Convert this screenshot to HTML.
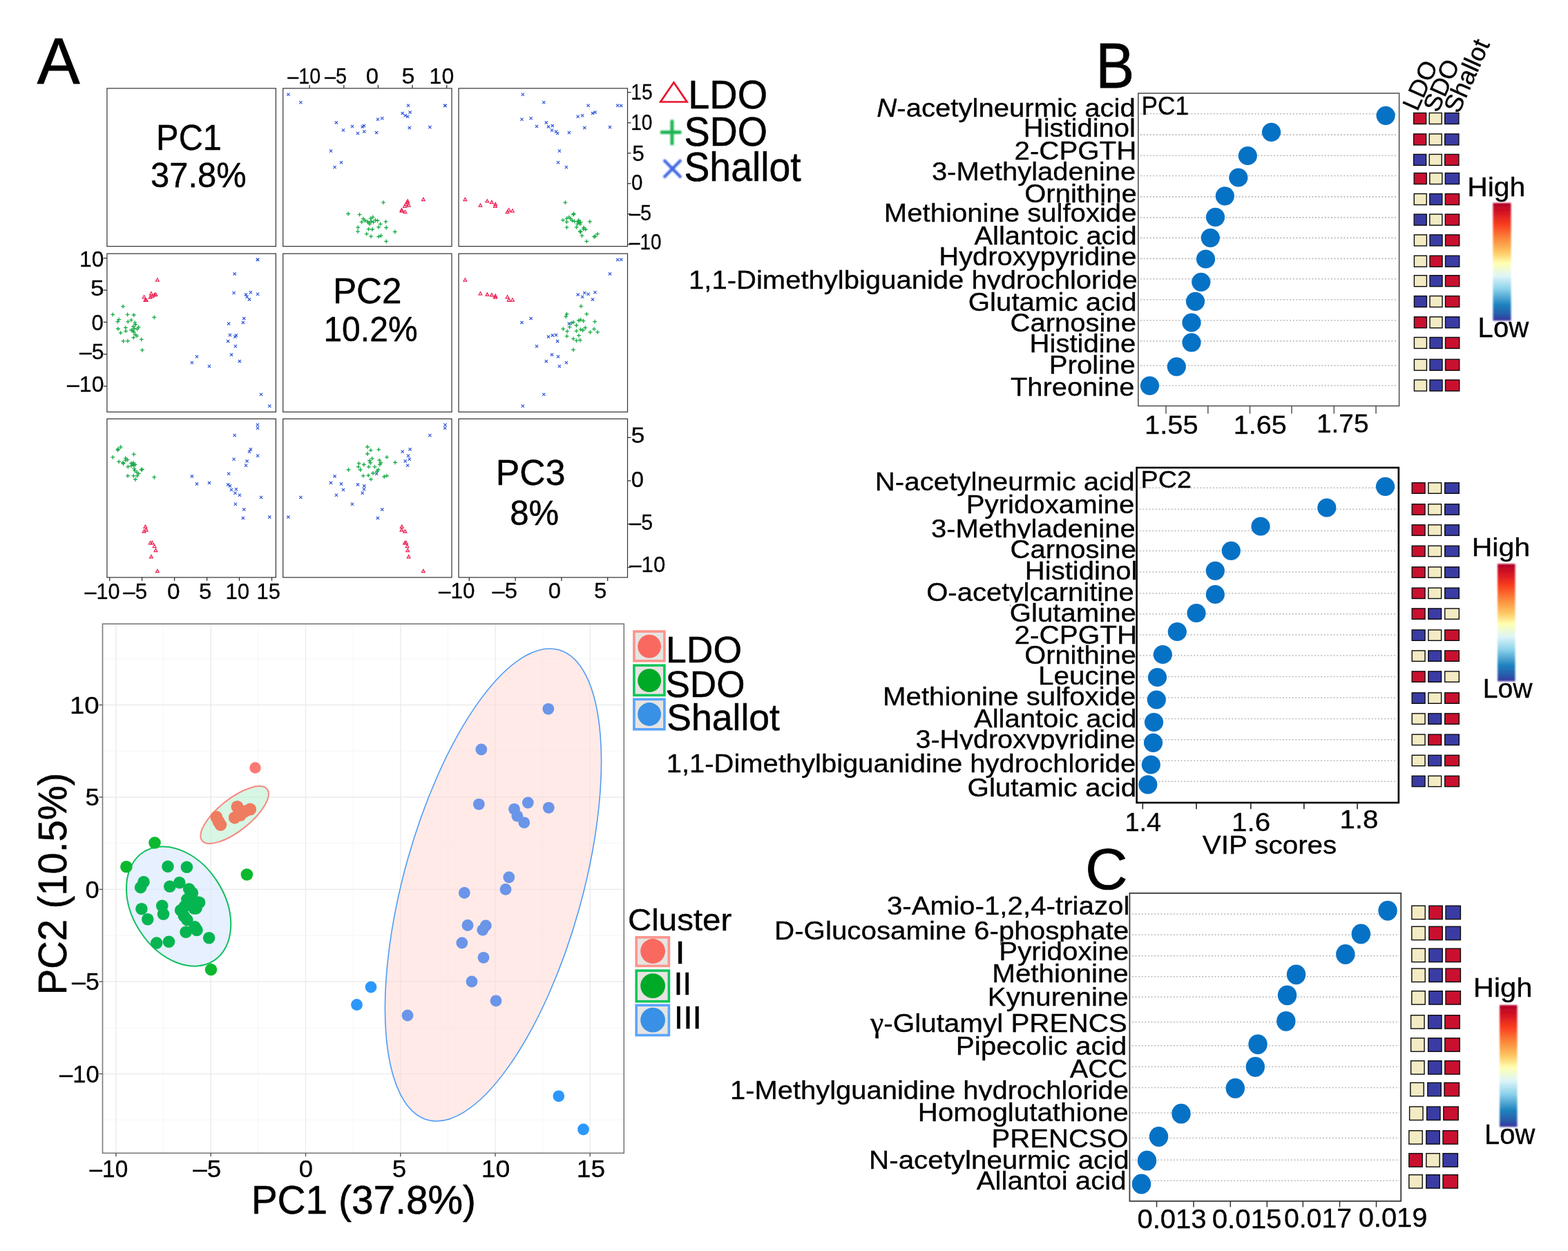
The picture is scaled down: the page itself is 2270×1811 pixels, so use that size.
<!DOCTYPE html>
<html lang="en"><head><meta charset="utf-8"><title>Figure: PCA score plots and VIP scores</title>
<style>
html,body{margin:0;padding:0;background:#fff;}
body{width:2270px;height:1811px;overflow:hidden;font-family:"Liberation Sans",Arial,Helvetica,sans-serif;}
svg{display:block;}
text{white-space:pre;}
</style></head>
<body>
<svg width="2270" height="1811" viewBox="0 0 2270 1811">
<defs>
<filter id="b1" x="-20%" y="-20%" width="140%" height="140%"><feGaussianBlur stdDeviation="0.9"/></filter>
<filter id="b05" x="-10%" y="-10%" width="120%" height="120%"><feGaussianBlur stdDeviation="0.6"/></filter>
<linearGradient id="cb" x1="0" y1="0" x2="0" y2="1">
<stop offset="0" stop-color="#b00028"/><stop offset="0.08" stop-color="#d41423"/><stop offset="0.18" stop-color="#f93c1e"/>
<stop offset="0.31" stop-color="#fc8c3c"/><stop offset="0.42" stop-color="#fec864"/><stop offset="0.51" stop-color="#ffffb0"/>
<stop offset="0.62" stop-color="#def5f8"/><stop offset="0.73" stop-color="#8cd2eb"/><stop offset="0.865" stop-color="#1e82be"/>
<stop offset="0.95" stop-color="#285aaa"/><stop offset="1" stop-color="#3c32a0"/>
</linearGradient>
</defs>
<rect width="2270" height="1811" fill="#fff"/>
<rect x="154.9" y="127.9" width="244.5" height="228.7" fill="none" stroke="#333" stroke-width="1.2"/>
<rect x="409.7" y="127.9" width="244.3" height="228.7" fill="none" stroke="#333" stroke-width="1.2"/>
<rect x="664.0" y="127.9" width="244.5" height="228.7" fill="none" stroke="#333" stroke-width="1.2"/>
<rect x="154.9" y="367.2" width="244.5" height="229.2" fill="none" stroke="#333" stroke-width="1.2"/>
<rect x="409.7" y="367.2" width="244.3" height="229.2" fill="none" stroke="#333" stroke-width="1.2"/>
<rect x="664.0" y="367.2" width="244.5" height="229.2" fill="none" stroke="#333" stroke-width="1.2"/>
<rect x="154.9" y="606.4" width="244.5" height="229.5" fill="none" stroke="#333" stroke-width="1.2"/>
<rect x="409.7" y="606.4" width="244.3" height="229.5" fill="none" stroke="#333" stroke-width="1.2"/>
<rect x="664.0" y="606.4" width="244.5" height="229.5" fill="none" stroke="#333" stroke-width="1.2"/>
<g id="pairs-points">
<path d="M642.4 150.9L646.6 155.1M642.4 155.1L646.6 150.9" fill="none" stroke="#2f55dd" stroke-width="1.2"/>
<path d="M642.1 150.6L646.3 154.8M642.1 154.8L646.3 150.6" fill="none" stroke="#2f55dd" stroke-width="1.2"/>
<path d="M620.3 182.0L624.5 186.2M620.3 186.2L624.5 182.0" fill="none" stroke="#2f55dd" stroke-width="1.2"/>
<path d="M590.7 183.0L594.9 187.2M590.7 187.2L594.9 183.0" fill="none" stroke="#2f55dd" stroke-width="1.2"/>
<path d="M588.1 166.7L592.3 170.9M588.1 170.9L592.3 166.7" fill="none" stroke="#2f55dd" stroke-width="1.2"/>
<path d="M591.5 160.3L595.7 164.5M591.5 164.5L595.7 160.3" fill="none" stroke="#2f55dd" stroke-width="1.2"/>
<path d="M588.9 150.6L593.1 154.8M588.9 154.8L593.1 150.6" fill="none" stroke="#2f55dd" stroke-width="1.2"/>
<path d="M584.6 165.2L588.8 169.4M584.6 169.4L588.8 165.2" fill="none" stroke="#2f55dd" stroke-width="1.2"/>
<path d="M580.6 162.0L584.8 166.2M580.6 166.2L584.8 162.0" fill="none" stroke="#2f55dd" stroke-width="1.2"/>
<path d="M551.2 169.2L555.4 173.4M551.2 173.4L555.4 169.2" fill="none" stroke="#2f55dd" stroke-width="1.2"/>
<path d="M544.8 170.6L549.0 174.8M544.8 174.8L549.0 170.6" fill="none" stroke="#2f55dd" stroke-width="1.2"/>
<path d="M543.0 190.0L547.2 194.2M543.0 194.2L547.2 190.0" fill="none" stroke="#2f55dd" stroke-width="1.2"/>
<path d="M525.2 188.4L529.4 192.6M525.2 192.6L529.4 188.4" fill="none" stroke="#2f55dd" stroke-width="1.2"/>
<path d="M524.9 180.0L529.1 184.2M524.9 184.2L529.1 180.0" fill="none" stroke="#2f55dd" stroke-width="1.2"/>
<path d="M522.6 181.3L526.8 185.5M522.6 185.5L526.8 181.3" fill="none" stroke="#2f55dd" stroke-width="1.2"/>
<path d="M515.9 190.9L520.1 195.1M515.9 195.1L520.1 190.9" fill="none" stroke="#2f55dd" stroke-width="1.2"/>
<path d="M507.9 180.9L512.1 185.1M507.9 185.1L512.1 180.9" fill="none" stroke="#2f55dd" stroke-width="1.2"/>
<path d="M494.9 186.4L499.1 190.6M494.9 190.6L499.1 186.4" fill="none" stroke="#2f55dd" stroke-width="1.2"/>
<path d="M484.8 175.3L489.0 179.5M484.8 179.5L489.0 175.3" fill="none" stroke="#2f55dd" stroke-width="1.2"/>
<path d="M491.9 233.2L496.1 237.4M491.9 237.4L496.1 233.2" fill="none" stroke="#2f55dd" stroke-width="1.2"/>
<path d="M482.5 239.9L486.7 244.1M482.5 244.1L486.7 239.9" fill="none" stroke="#2f55dd" stroke-width="1.2"/>
<path d="M476.9 216.4L481.1 220.6M476.9 220.6L481.1 216.4" fill="none" stroke="#2f55dd" stroke-width="1.2"/>
<path d="M433.3 146.1L437.5 150.3M433.3 150.3L437.5 146.1" fill="none" stroke="#2f55dd" stroke-width="1.2"/>
<path d="M415.3 134.6L419.5 138.8M415.3 138.8L419.5 134.6" fill="none" stroke="#2f55dd" stroke-width="1.2"/>
<path d="M556.3 349.4H562.1M559.2 346.5V352.3" fill="none" stroke="#14ab45" stroke-width="1.3"/>
<path d="M545.2 342.7H551.0M548.1 339.8V345.6" fill="none" stroke="#14ab45" stroke-width="1.3"/>
<path d="M534.2 342.2H540.0M537.1 339.3V345.1" fill="none" stroke="#14ab45" stroke-width="1.3"/>
<path d="M548.6 341.1H554.4M551.5 338.2V344.0" fill="none" stroke="#14ab45" stroke-width="1.3"/>
<path d="M527.9 338.7H533.7M530.8 335.8V341.6" fill="none" stroke="#14ab45" stroke-width="1.3"/>
<path d="M568.8 335.5H574.6M571.7 332.6V338.4" fill="none" stroke="#14ab45" stroke-width="1.3"/>
<path d="M515.1 335.1H520.9M518.0 332.2V338.0" fill="none" stroke="#14ab45" stroke-width="1.3"/>
<path d="M536.1 332.0H541.9M539.0 329.1V334.9" fill="none" stroke="#14ab45" stroke-width="1.3"/>
<path d="M530.7 331.7H536.5M533.6 328.8V334.6" fill="none" stroke="#14ab45" stroke-width="1.3"/>
<path d="M556.3 329.5H562.1M559.2 326.6V332.4" fill="none" stroke="#14ab45" stroke-width="1.3"/>
<path d="M515.4 329.1H521.2M518.3 326.2V332.0" fill="none" stroke="#14ab45" stroke-width="1.3"/>
<path d="M545.2 328.8H551.0M548.1 325.9V331.7" fill="none" stroke="#14ab45" stroke-width="1.3"/>
<path d="M547.8 324.4H553.6M550.7 321.5V327.3" fill="none" stroke="#14ab45" stroke-width="1.3"/>
<path d="M532.2 324.4H538.0M535.1 321.5V327.3" fill="none" stroke="#14ab45" stroke-width="1.3"/>
<path d="M531.5 322.4H537.3M534.4 319.5V325.3" fill="none" stroke="#14ab45" stroke-width="1.3"/>
<path d="M537.6 321.7H543.4M540.5 318.8V324.6" fill="none" stroke="#14ab45" stroke-width="1.3"/>
<path d="M520.8 321.3H526.6M523.7 318.4V324.2" fill="none" stroke="#14ab45" stroke-width="1.3"/>
<path d="M529.2 321.0H535.0M532.1 318.1V323.9" fill="none" stroke="#14ab45" stroke-width="1.3"/>
<path d="M555.6 320.9H561.4M558.5 318.0V323.8" fill="none" stroke="#14ab45" stroke-width="1.3"/>
<path d="M534.5 320.4H540.3M537.4 317.5V323.3" fill="none" stroke="#14ab45" stroke-width="1.3"/>
<path d="M543.7 319.4H549.5M546.6 316.5V322.3" fill="none" stroke="#14ab45" stroke-width="1.3"/>
<path d="M525.3 319.0H531.1M528.2 316.1V321.9" fill="none" stroke="#14ab45" stroke-width="1.3"/>
<path d="M540.6 318.7H546.4M543.5 315.8V321.6" fill="none" stroke="#14ab45" stroke-width="1.3"/>
<path d="M523.0 316.7H528.8M525.9 313.8V319.6" fill="none" stroke="#14ab45" stroke-width="1.3"/>
<path d="M533.8 316.3H539.6M536.7 313.4V319.2" fill="none" stroke="#14ab45" stroke-width="1.3"/>
<path d="M536.8 314.3H542.6M539.7 311.4V317.2" fill="none" stroke="#14ab45" stroke-width="1.3"/>
<path d="M517.7 310.6H523.5M520.6 307.7V313.5" fill="none" stroke="#14ab45" stroke-width="1.3"/>
<path d="M501.2 309.5H507.0M504.1 306.6V312.4" fill="none" stroke="#14ab45" stroke-width="1.3"/>
<path d="M552.1 293.2H557.9M555.0 290.3V296.1" fill="none" stroke="#14ab45" stroke-width="1.3"/>
<path d="M612.9 286.4L615.2 290.6L610.5 290.6Z" fill="none" stroke="#ee2255" stroke-width="1.25"/>
<path d="M586.4 304.5L588.8 308.7L584.0 308.7Z" fill="none" stroke="#ee2255" stroke-width="1.25"/>
<path d="M581.8 302.7L584.2 307.0L579.4 307.0Z" fill="none" stroke="#ee2255" stroke-width="1.25"/>
<path d="M581.5 301.5L583.9 305.8L579.1 305.8Z" fill="none" stroke="#ee2255" stroke-width="1.25"/>
<path d="M585.9 296.0L588.3 300.3L583.6 300.3Z" fill="none" stroke="#ee2255" stroke-width="1.25"/>
<path d="M591.7 294.8L594.1 299.1L589.4 299.1Z" fill="none" stroke="#ee2255" stroke-width="1.25"/>
<path d="M587.9 293.4L590.3 297.6L585.5 297.6Z" fill="none" stroke="#ee2255" stroke-width="1.25"/>
<path d="M589.5 290.4L591.8 294.7L587.1 294.7Z" fill="none" stroke="#ee2255" stroke-width="1.25"/>
<path d="M590.2 288.7L592.6 292.9L587.8 292.9Z" fill="none" stroke="#ee2255" stroke-width="1.25"/>
<path d="M897.2 150.9L901.4 155.1M897.2 155.1L901.4 150.9" fill="none" stroke="#2f55dd" stroke-width="1.2"/>
<path d="M892.1 150.6L896.3 154.8M892.1 154.8L896.3 150.6" fill="none" stroke="#2f55dd" stroke-width="1.2"/>
<path d="M880.9 182.0L885.1 186.2M880.9 186.2L885.1 182.0" fill="none" stroke="#2f55dd" stroke-width="1.2"/>
<path d="M844.2 183.0L848.4 187.2M844.2 187.2L848.4 183.0" fill="none" stroke="#2f55dd" stroke-width="1.2"/>
<path d="M834.6 166.7L838.8 170.9M834.6 170.9L838.8 166.7" fill="none" stroke="#2f55dd" stroke-width="1.2"/>
<path d="M859.4 160.3L863.6 164.5M859.4 164.5L863.6 160.3" fill="none" stroke="#2f55dd" stroke-width="1.2"/>
<path d="M849.5 150.6L853.7 154.8M849.5 154.8L853.7 150.6" fill="none" stroke="#2f55dd" stroke-width="1.2"/>
<path d="M841.1 165.2L845.3 169.4M841.1 169.4L845.3 165.2" fill="none" stroke="#2f55dd" stroke-width="1.2"/>
<path d="M855.9 162.0L860.1 166.2M855.9 166.2L860.1 162.0" fill="none" stroke="#2f55dd" stroke-width="1.2"/>
<path d="M766.5 169.2L770.7 173.4M766.5 173.4L770.7 169.2" fill="none" stroke="#2f55dd" stroke-width="1.2"/>
<path d="M753.4 170.6L757.6 174.8M753.4 174.8L757.6 170.6" fill="none" stroke="#2f55dd" stroke-width="1.2"/>
<path d="M821.8 190.0L826.0 194.2M821.8 194.2L826.0 190.0" fill="none" stroke="#2f55dd" stroke-width="1.2"/>
<path d="M802.9 188.4L807.1 192.6M802.9 192.6L807.1 188.4" fill="none" stroke="#2f55dd" stroke-width="1.2"/>
<path d="M797.7 180.0L801.9 184.2M797.7 184.2L801.9 180.0" fill="none" stroke="#2f55dd" stroke-width="1.2"/>
<path d="M791.9 181.3L796.1 185.5M791.9 185.5L796.1 181.3" fill="none" stroke="#2f55dd" stroke-width="1.2"/>
<path d="M805.0 190.9L809.2 195.1M805.0 195.1L809.2 190.9" fill="none" stroke="#2f55dd" stroke-width="1.2"/>
<path d="M774.9 180.9L779.1 185.1M774.9 185.1L779.1 180.9" fill="none" stroke="#2f55dd" stroke-width="1.2"/>
<path d="M796.9 186.4L801.1 190.6M796.9 190.6L801.1 186.4" fill="none" stroke="#2f55dd" stroke-width="1.2"/>
<path d="M788.7 175.3L792.9 179.5M788.7 179.5L792.9 175.3" fill="none" stroke="#2f55dd" stroke-width="1.2"/>
<path d="M805.9 233.2L810.1 237.4M805.9 237.4L810.1 233.2" fill="none" stroke="#2f55dd" stroke-width="1.2"/>
<path d="M817.8 239.9L822.0 244.1M817.8 244.1L822.0 239.9" fill="none" stroke="#2f55dd" stroke-width="1.2"/>
<path d="M807.8 216.4L812.0 220.6M807.8 220.6L812.0 216.4" fill="none" stroke="#2f55dd" stroke-width="1.2"/>
<path d="M785.2 146.1L789.4 150.3M785.2 150.3L789.4 146.1" fill="none" stroke="#2f55dd" stroke-width="1.2"/>
<path d="M754.7 134.6L758.9 138.8M754.7 138.8L758.9 134.6" fill="none" stroke="#2f55dd" stroke-width="1.2"/>
<path d="M846.4 349.4H852.2M849.3 346.5V352.3" fill="none" stroke="#14ab45" stroke-width="1.3"/>
<path d="M857.2 342.7H863.0M860.1 339.8V345.6" fill="none" stroke="#14ab45" stroke-width="1.3"/>
<path d="M859.0 342.2H864.8M861.9 339.3V345.1" fill="none" stroke="#14ab45" stroke-width="1.3"/>
<path d="M839.6 341.1H845.4M842.5 338.2V344.0" fill="none" stroke="#14ab45" stroke-width="1.3"/>
<path d="M862.1 338.7H867.9M865.0 335.8V341.6" fill="none" stroke="#14ab45" stroke-width="1.3"/>
<path d="M837.7 335.5H843.5M840.6 332.6V338.4" fill="none" stroke="#14ab45" stroke-width="1.3"/>
<path d="M836.7 335.1H842.5M839.6 332.2V338.0" fill="none" stroke="#14ab45" stroke-width="1.3"/>
<path d="M844.9 332.0H850.7M847.8 329.1V334.9" fill="none" stroke="#14ab45" stroke-width="1.3"/>
<path d="M842.0 331.7H847.8M844.9 328.8V334.6" fill="none" stroke="#14ab45" stroke-width="1.3"/>
<path d="M842.3 329.5H848.1M845.2 326.6V332.4" fill="none" stroke="#14ab45" stroke-width="1.3"/>
<path d="M817.6 329.1H823.4M820.5 326.2V332.0" fill="none" stroke="#14ab45" stroke-width="1.3"/>
<path d="M831.6 328.8H837.4M834.5 325.9V331.7" fill="none" stroke="#14ab45" stroke-width="1.3"/>
<path d="M837.0 324.4H842.8M839.9 321.5V327.3" fill="none" stroke="#14ab45" stroke-width="1.3"/>
<path d="M833.2 324.4H839.0M836.1 321.5V327.3" fill="none" stroke="#14ab45" stroke-width="1.3"/>
<path d="M835.4 322.4H841.2M838.3 319.5V325.3" fill="none" stroke="#14ab45" stroke-width="1.3"/>
<path d="M837.7 321.7H843.5M840.6 318.8V324.6" fill="none" stroke="#14ab45" stroke-width="1.3"/>
<path d="M817.6 321.3H823.4M820.5 318.4V324.2" fill="none" stroke="#14ab45" stroke-width="1.3"/>
<path d="M833.9 321.0H839.7M836.8 318.1V323.9" fill="none" stroke="#14ab45" stroke-width="1.3"/>
<path d="M851.0 320.9H856.8M853.9 318.0V323.8" fill="none" stroke="#14ab45" stroke-width="1.3"/>
<path d="M828.6 320.4H834.4M831.5 317.5V323.3" fill="none" stroke="#14ab45" stroke-width="1.3"/>
<path d="M825.5 319.4H831.3M828.4 316.5V322.3" fill="none" stroke="#14ab45" stroke-width="1.3"/>
<path d="M835.0 319.0H840.8M837.9 316.1V321.9" fill="none" stroke="#14ab45" stroke-width="1.3"/>
<path d="M812.1 318.7H817.9M815.0 315.8V321.6" fill="none" stroke="#14ab45" stroke-width="1.3"/>
<path d="M823.3 316.7H829.1M826.2 313.8V319.6" fill="none" stroke="#14ab45" stroke-width="1.3"/>
<path d="M817.6 316.3H823.4M820.5 313.4V319.2" fill="none" stroke="#14ab45" stroke-width="1.3"/>
<path d="M821.0 314.3H826.8M823.9 311.4V317.2" fill="none" stroke="#14ab45" stroke-width="1.3"/>
<path d="M827.1 310.6H832.9M830.0 307.7V313.5" fill="none" stroke="#14ab45" stroke-width="1.3"/>
<path d="M827.8 309.5H833.6M830.7 306.6V312.4" fill="none" stroke="#14ab45" stroke-width="1.3"/>
<path d="M815.5 293.2H821.3M818.4 290.3V296.1" fill="none" stroke="#14ab45" stroke-width="1.3"/>
<path d="M673.4 286.4L675.7 290.6L671.0 290.6Z" fill="none" stroke="#ee2255" stroke-width="1.25"/>
<path d="M734.6 304.5L737.0 308.7L732.2 308.7Z" fill="none" stroke="#ee2255" stroke-width="1.25"/>
<path d="M741.9 302.7L744.3 307.0L739.5 307.0Z" fill="none" stroke="#ee2255" stroke-width="1.25"/>
<path d="M736.7 301.5L739.1 305.8L734.4 305.8Z" fill="none" stroke="#ee2255" stroke-width="1.25"/>
<path d="M716.9 296.0L719.3 300.3L714.6 300.3Z" fill="none" stroke="#ee2255" stroke-width="1.25"/>
<path d="M695.5 294.8L697.8 299.1L693.1 299.1Z" fill="none" stroke="#ee2255" stroke-width="1.25"/>
<path d="M717.2 293.4L719.6 297.6L714.9 297.6Z" fill="none" stroke="#ee2255" stroke-width="1.25"/>
<path d="M711.9 290.4L714.3 294.7L709.5 294.7Z" fill="none" stroke="#ee2255" stroke-width="1.25"/>
<path d="M705.4 288.7L707.7 292.9L703.0 292.9Z" fill="none" stroke="#ee2255" stroke-width="1.25"/>
<path d="M370.8 373.6L375.0 377.8M370.8 377.8L375.0 373.6" fill="none" stroke="#2f55dd" stroke-width="1.2"/>
<path d="M371.0 373.9L375.2 378.1M371.0 378.1L375.2 373.9" fill="none" stroke="#2f55dd" stroke-width="1.2"/>
<path d="M337.6 394.3L341.8 398.5M337.6 398.5L341.8 394.3" fill="none" stroke="#2f55dd" stroke-width="1.2"/>
<path d="M336.5 421.9L340.7 426.1M336.5 426.1L340.7 421.9" fill="none" stroke="#2f55dd" stroke-width="1.2"/>
<path d="M353.9 424.3L358.1 428.5M353.9 428.5L358.1 424.3" fill="none" stroke="#2f55dd" stroke-width="1.2"/>
<path d="M360.8 421.2L365.0 425.4M360.8 425.4L365.0 421.2" fill="none" stroke="#2f55dd" stroke-width="1.2"/>
<path d="M371.0 423.6L375.2 427.8M371.0 427.8L375.2 423.6" fill="none" stroke="#2f55dd" stroke-width="1.2"/>
<path d="M355.5 427.6L359.7 431.8M355.5 431.8L359.7 427.6" fill="none" stroke="#2f55dd" stroke-width="1.2"/>
<path d="M358.9 431.3L363.1 435.5M358.9 435.5L363.1 431.3" fill="none" stroke="#2f55dd" stroke-width="1.2"/>
<path d="M351.2 458.8L355.4 463.0M351.2 463.0L355.4 458.8" fill="none" stroke="#2f55dd" stroke-width="1.2"/>
<path d="M349.8 464.8L354.0 469.0M349.8 469.0L354.0 464.8" fill="none" stroke="#2f55dd" stroke-width="1.2"/>
<path d="M329.0 466.5L333.2 470.7M329.0 470.7L333.2 466.5" fill="none" stroke="#2f55dd" stroke-width="1.2"/>
<path d="M330.8 483.0L335.0 487.2M330.8 487.2L335.0 483.0" fill="none" stroke="#2f55dd" stroke-width="1.2"/>
<path d="M339.8 483.3L344.0 487.5M339.8 487.5L344.0 483.3" fill="none" stroke="#2f55dd" stroke-width="1.2"/>
<path d="M338.3 485.5L342.5 489.7M338.3 489.7L342.5 485.5" fill="none" stroke="#2f55dd" stroke-width="1.2"/>
<path d="M328.0 491.8L332.2 496.0M328.0 496.0L332.2 491.8" fill="none" stroke="#2f55dd" stroke-width="1.2"/>
<path d="M338.8 499.2L343.0 503.4M338.8 503.4L343.0 499.2" fill="none" stroke="#2f55dd" stroke-width="1.2"/>
<path d="M332.9 511.3L337.1 515.5M332.9 515.5L337.1 511.3" fill="none" stroke="#2f55dd" stroke-width="1.2"/>
<path d="M344.8 520.8L349.0 525.0M344.8 525.0L349.0 520.8" fill="none" stroke="#2f55dd" stroke-width="1.2"/>
<path d="M282.9 514.2L287.1 518.4M282.9 518.4L287.1 514.2" fill="none" stroke="#2f55dd" stroke-width="1.2"/>
<path d="M275.8 522.9L280.0 527.1M275.8 527.1L280.0 522.9" fill="none" stroke="#2f55dd" stroke-width="1.2"/>
<path d="M300.9 528.2L305.1 532.4M300.9 532.4L305.1 528.2" fill="none" stroke="#2f55dd" stroke-width="1.2"/>
<path d="M375.9 568.9L380.1 573.1M375.9 573.1L380.1 568.9" fill="none" stroke="#2f55dd" stroke-width="1.2"/>
<path d="M388.2 585.6L392.4 589.8M388.2 589.8L392.4 585.6" fill="none" stroke="#2f55dd" stroke-width="1.2"/>
<path d="M160.4 455.4H166.2M163.3 452.5V458.3" fill="none" stroke="#14ab45" stroke-width="1.3"/>
<path d="M167.5 465.7H173.3M170.4 462.8V468.6" fill="none" stroke="#14ab45" stroke-width="1.3"/>
<path d="M168.1 476.0H173.9M171.0 473.1V478.9" fill="none" stroke="#14ab45" stroke-width="1.3"/>
<path d="M169.2 462.6H175.0M172.1 459.7V465.5" fill="none" stroke="#14ab45" stroke-width="1.3"/>
<path d="M171.8 481.9H177.6M174.7 479.0V484.8" fill="none" stroke="#14ab45" stroke-width="1.3"/>
<path d="M175.2 443.7H181.0M178.1 440.8V446.6" fill="none" stroke="#14ab45" stroke-width="1.3"/>
<path d="M175.7 493.9H181.5M178.6 491.0V496.8" fill="none" stroke="#14ab45" stroke-width="1.3"/>
<path d="M179.0 474.3H184.8M181.9 471.4V477.2" fill="none" stroke="#14ab45" stroke-width="1.3"/>
<path d="M179.2 479.3H185.0M182.1 476.4V482.2" fill="none" stroke="#14ab45" stroke-width="1.3"/>
<path d="M181.7 455.4H187.5M184.6 452.5V458.3" fill="none" stroke="#14ab45" stroke-width="1.3"/>
<path d="M182.1 493.6H187.9M185.0 490.7V496.5" fill="none" stroke="#14ab45" stroke-width="1.3"/>
<path d="M182.4 465.7H188.2M185.3 462.8V468.6" fill="none" stroke="#14ab45" stroke-width="1.3"/>
<path d="M187.1 463.3H192.9M190.0 460.4V466.2" fill="none" stroke="#14ab45" stroke-width="1.3"/>
<path d="M187.1 477.9H192.9M190.0 475.0V480.8" fill="none" stroke="#14ab45" stroke-width="1.3"/>
<path d="M189.2 478.6H195.0M192.1 475.7V481.5" fill="none" stroke="#14ab45" stroke-width="1.3"/>
<path d="M190.0 472.9H195.8M192.9 470.0V475.8" fill="none" stroke="#14ab45" stroke-width="1.3"/>
<path d="M190.4 488.6H196.2M193.3 485.7V491.5" fill="none" stroke="#14ab45" stroke-width="1.3"/>
<path d="M190.7 480.7H196.5M193.6 477.8V483.6" fill="none" stroke="#14ab45" stroke-width="1.3"/>
<path d="M190.8 456.0H196.6M193.7 453.1V458.9" fill="none" stroke="#14ab45" stroke-width="1.3"/>
<path d="M191.4 475.7H197.2M194.3 472.8V478.6" fill="none" stroke="#14ab45" stroke-width="1.3"/>
<path d="M192.4 467.1H198.2M195.3 464.2V470.0" fill="none" stroke="#14ab45" stroke-width="1.3"/>
<path d="M192.8 484.3H198.6M195.7 481.4V487.2" fill="none" stroke="#14ab45" stroke-width="1.3"/>
<path d="M193.1 470.0H198.9M196.0 467.1V472.9" fill="none" stroke="#14ab45" stroke-width="1.3"/>
<path d="M195.2 486.4H201.0M198.1 483.5V489.3" fill="none" stroke="#14ab45" stroke-width="1.3"/>
<path d="M195.7 476.4H201.5M198.6 473.5V479.3" fill="none" stroke="#14ab45" stroke-width="1.3"/>
<path d="M197.8 473.6H203.6M200.7 470.7V476.5" fill="none" stroke="#14ab45" stroke-width="1.3"/>
<path d="M201.8 491.4H207.6M204.7 488.5V494.3" fill="none" stroke="#14ab45" stroke-width="1.3"/>
<path d="M203.0 506.9H208.8M205.9 504.0V509.8" fill="none" stroke="#14ab45" stroke-width="1.3"/>
<path d="M220.4 459.3H226.2M223.3 456.4V462.2" fill="none" stroke="#14ab45" stroke-width="1.3"/>
<path d="M227.9 402.8L230.2 407.0L225.5 407.0Z" fill="none" stroke="#ee2255" stroke-width="1.25"/>
<path d="M208.6 427.5L210.9 431.8L206.2 431.8Z" fill="none" stroke="#ee2255" stroke-width="1.25"/>
<path d="M210.4 431.8L212.8 436.0L208.1 436.0Z" fill="none" stroke="#ee2255" stroke-width="1.25"/>
<path d="M211.7 432.1L214.1 436.3L209.3 436.3Z" fill="none" stroke="#ee2255" stroke-width="1.25"/>
<path d="M217.6 427.9L219.9 432.2L215.2 432.2Z" fill="none" stroke="#ee2255" stroke-width="1.25"/>
<path d="M218.9 422.5L221.2 426.8L216.5 426.8Z" fill="none" stroke="#ee2255" stroke-width="1.25"/>
<path d="M220.4 426.1L222.8 430.3L218.1 430.3Z" fill="none" stroke="#ee2255" stroke-width="1.25"/>
<path d="M223.6 424.6L225.9 428.9L221.2 428.9Z" fill="none" stroke="#ee2255" stroke-width="1.25"/>
<path d="M225.4 423.9L227.8 428.2L223.1 428.2Z" fill="none" stroke="#ee2255" stroke-width="1.25"/>
<path d="M897.2 373.6L901.4 377.8M897.2 377.8L901.4 373.6" fill="none" stroke="#2f55dd" stroke-width="1.2"/>
<path d="M892.1 373.9L896.3 378.1M892.1 378.1L896.3 373.9" fill="none" stroke="#2f55dd" stroke-width="1.2"/>
<path d="M880.9 394.3L885.1 398.5M880.9 398.5L885.1 394.3" fill="none" stroke="#2f55dd" stroke-width="1.2"/>
<path d="M844.2 421.9L848.4 426.1M844.2 426.1L848.4 421.9" fill="none" stroke="#2f55dd" stroke-width="1.2"/>
<path d="M834.6 424.3L838.8 428.5M834.6 428.5L838.8 424.3" fill="none" stroke="#2f55dd" stroke-width="1.2"/>
<path d="M859.4 421.2L863.6 425.4M859.4 425.4L863.6 421.2" fill="none" stroke="#2f55dd" stroke-width="1.2"/>
<path d="M849.5 423.6L853.7 427.8M849.5 427.8L853.7 423.6" fill="none" stroke="#2f55dd" stroke-width="1.2"/>
<path d="M841.1 427.6L845.3 431.8M841.1 431.8L845.3 427.6" fill="none" stroke="#2f55dd" stroke-width="1.2"/>
<path d="M855.9 431.3L860.1 435.5M855.9 435.5L860.1 431.3" fill="none" stroke="#2f55dd" stroke-width="1.2"/>
<path d="M766.5 458.8L770.7 463.0M766.5 463.0L770.7 458.8" fill="none" stroke="#2f55dd" stroke-width="1.2"/>
<path d="M753.4 464.8L757.6 469.0M753.4 469.0L757.6 464.8" fill="none" stroke="#2f55dd" stroke-width="1.2"/>
<path d="M821.8 466.5L826.0 470.7M821.8 470.7L826.0 466.5" fill="none" stroke="#2f55dd" stroke-width="1.2"/>
<path d="M802.9 483.0L807.1 487.2M802.9 487.2L807.1 483.0" fill="none" stroke="#2f55dd" stroke-width="1.2"/>
<path d="M797.7 483.3L801.9 487.5M797.7 487.5L801.9 483.3" fill="none" stroke="#2f55dd" stroke-width="1.2"/>
<path d="M791.9 485.5L796.1 489.7M791.9 489.7L796.1 485.5" fill="none" stroke="#2f55dd" stroke-width="1.2"/>
<path d="M805.0 491.8L809.2 496.0M805.0 496.0L809.2 491.8" fill="none" stroke="#2f55dd" stroke-width="1.2"/>
<path d="M774.9 499.2L779.1 503.4M774.9 503.4L779.1 499.2" fill="none" stroke="#2f55dd" stroke-width="1.2"/>
<path d="M796.9 511.3L801.1 515.5M796.9 515.5L801.1 511.3" fill="none" stroke="#2f55dd" stroke-width="1.2"/>
<path d="M788.7 520.8L792.9 525.0M788.7 525.0L792.9 520.8" fill="none" stroke="#2f55dd" stroke-width="1.2"/>
<path d="M805.9 514.2L810.1 518.4M805.9 518.4L810.1 514.2" fill="none" stroke="#2f55dd" stroke-width="1.2"/>
<path d="M817.8 522.9L822.0 527.1M817.8 527.1L822.0 522.9" fill="none" stroke="#2f55dd" stroke-width="1.2"/>
<path d="M807.8 528.2L812.0 532.4M807.8 532.4L812.0 528.2" fill="none" stroke="#2f55dd" stroke-width="1.2"/>
<path d="M785.2 568.9L789.4 573.1M785.2 573.1L789.4 568.9" fill="none" stroke="#2f55dd" stroke-width="1.2"/>
<path d="M754.7 585.6L758.9 589.8M754.7 589.8L758.9 585.6" fill="none" stroke="#2f55dd" stroke-width="1.2"/>
<path d="M862.2 480.8H868.0M865.1 477.9V483.7" fill="none" stroke="#14ab45" stroke-width="1.3"/>
<path d="M857.2 476.3H863.0M860.1 473.4V479.2" fill="none" stroke="#14ab45" stroke-width="1.3"/>
<path d="M858.2 465.6H864.0M861.1 462.7V468.5" fill="none" stroke="#14ab45" stroke-width="1.3"/>
<path d="M851.6 480.8H857.4M854.5 477.9V483.7" fill="none" stroke="#14ab45" stroke-width="1.3"/>
<path d="M846.5 454.6H852.3M849.4 451.7V457.5" fill="none" stroke="#14ab45" stroke-width="1.3"/>
<path d="M844.4 474.5H850.2M847.3 471.6V477.4" fill="none" stroke="#14ab45" stroke-width="1.3"/>
<path d="M840.9 478.0H846.7M843.8 475.1V480.9" fill="none" stroke="#14ab45" stroke-width="1.3"/>
<path d="M841.7 464.7H847.5M844.6 461.8V467.6" fill="none" stroke="#14ab45" stroke-width="1.3"/>
<path d="M836.9 492.4H842.7M839.8 489.5V495.3" fill="none" stroke="#14ab45" stroke-width="1.3"/>
<path d="M835.1 485.7H840.9M838.0 482.8V488.6" fill="none" stroke="#14ab45" stroke-width="1.3"/>
<path d="M837.7 476.8H843.5M840.6 473.9V479.7" fill="none" stroke="#14ab45" stroke-width="1.3"/>
<path d="M837.7 462.8H843.5M840.6 459.9V465.7" fill="none" stroke="#14ab45" stroke-width="1.3"/>
<path d="M838.3 443.4H844.1M841.2 440.5V446.3" fill="none" stroke="#14ab45" stroke-width="1.3"/>
<path d="M831.6 493.1H837.4M834.5 490.2V496.0" fill="none" stroke="#14ab45" stroke-width="1.3"/>
<path d="M831.6 479.1H837.4M834.5 476.2V482.0" fill="none" stroke="#14ab45" stroke-width="1.3"/>
<path d="M831.6 471.0H837.4M834.5 468.1V473.9" fill="none" stroke="#14ab45" stroke-width="1.3"/>
<path d="M835.1 464.0H840.9M838.0 461.1V466.9" fill="none" stroke="#14ab45" stroke-width="1.3"/>
<path d="M827.1 506.4H832.9M830.0 503.5V509.3" fill="none" stroke="#14ab45" stroke-width="1.3"/>
<path d="M827.1 490.3H832.9M830.0 487.4V493.2" fill="none" stroke="#14ab45" stroke-width="1.3"/>
<path d="M827.1 466.3H832.9M830.0 463.4V469.2" fill="none" stroke="#14ab45" stroke-width="1.3"/>
<path d="M821.7 473.3H827.5M824.6 470.4V476.2" fill="none" stroke="#14ab45" stroke-width="1.3"/>
<path d="M824.4 467.9H830.2M827.3 465.0V470.8" fill="none" stroke="#14ab45" stroke-width="1.3"/>
<path d="M817.7 486.6H823.5M820.6 483.7V489.5" fill="none" stroke="#14ab45" stroke-width="1.3"/>
<path d="M818.3 479.6H824.1M821.2 476.7V482.5" fill="none" stroke="#14ab45" stroke-width="1.3"/>
<path d="M812.4 476.1H818.2M815.3 473.2V479.0" fill="none" stroke="#14ab45" stroke-width="1.3"/>
<path d="M816.4 458.1H822.2M819.3 455.2V461.0" fill="none" stroke="#14ab45" stroke-width="1.3"/>
<path d="M817.7 454.6H823.5M820.6 451.7V457.5" fill="none" stroke="#14ab45" stroke-width="1.3"/>
<path d="M673.4 402.8L675.7 407.0L671.0 407.0Z" fill="none" stroke="#ee2255" stroke-width="1.25"/>
<path d="M734.6 427.5L737.0 431.8L732.2 431.8Z" fill="none" stroke="#ee2255" stroke-width="1.25"/>
<path d="M741.9 431.8L744.3 436.0L739.5 436.0Z" fill="none" stroke="#ee2255" stroke-width="1.25"/>
<path d="M736.7 432.1L739.1 436.3L734.4 436.3Z" fill="none" stroke="#ee2255" stroke-width="1.25"/>
<path d="M716.9 427.9L719.3 432.2L714.6 432.2Z" fill="none" stroke="#ee2255" stroke-width="1.25"/>
<path d="M695.5 422.5L697.8 426.8L693.1 426.8Z" fill="none" stroke="#ee2255" stroke-width="1.25"/>
<path d="M717.2 426.1L719.6 430.3L714.9 430.3Z" fill="none" stroke="#ee2255" stroke-width="1.25"/>
<path d="M711.9 424.6L714.3 428.9L709.5 428.9Z" fill="none" stroke="#ee2255" stroke-width="1.25"/>
<path d="M705.4 423.9L707.7 428.2L703.0 428.2Z" fill="none" stroke="#ee2255" stroke-width="1.25"/>
<path d="M370.8 612.9L375.0 617.1M370.8 617.1L375.0 612.9" fill="none" stroke="#2f55dd" stroke-width="1.2"/>
<path d="M371.0 617.6L375.2 621.8M371.0 621.8L375.2 617.6" fill="none" stroke="#2f55dd" stroke-width="1.2"/>
<path d="M337.6 628.2L341.8 632.4M337.6 632.4L341.8 628.2" fill="none" stroke="#2f55dd" stroke-width="1.2"/>
<path d="M336.5 662.6L340.7 666.8M336.5 666.8L340.7 662.6" fill="none" stroke="#2f55dd" stroke-width="1.2"/>
<path d="M353.9 671.6L358.1 675.8M353.9 675.8L358.1 671.6" fill="none" stroke="#2f55dd" stroke-width="1.2"/>
<path d="M360.8 648.3L365.0 652.5M360.8 652.5L365.0 648.3" fill="none" stroke="#2f55dd" stroke-width="1.2"/>
<path d="M371.0 657.6L375.2 661.8M371.0 661.8L375.2 657.6" fill="none" stroke="#2f55dd" stroke-width="1.2"/>
<path d="M355.5 665.5L359.7 669.7M355.5 669.7L359.7 665.5" fill="none" stroke="#2f55dd" stroke-width="1.2"/>
<path d="M358.9 651.6L363.1 655.8M358.9 655.8L363.1 651.6" fill="none" stroke="#2f55dd" stroke-width="1.2"/>
<path d="M351.2 735.5L355.4 739.7M351.2 739.7L355.4 735.5" fill="none" stroke="#2f55dd" stroke-width="1.2"/>
<path d="M349.8 747.8L354.0 752.0M349.8 752.0L354.0 747.8" fill="none" stroke="#2f55dd" stroke-width="1.2"/>
<path d="M329.0 683.6L333.2 687.8M329.0 687.8L333.2 683.6" fill="none" stroke="#2f55dd" stroke-width="1.2"/>
<path d="M330.8 701.3L335.0 705.5M330.8 705.5L335.0 701.3" fill="none" stroke="#2f55dd" stroke-width="1.2"/>
<path d="M339.8 706.2L344.0 710.4M339.8 710.4L344.0 706.2" fill="none" stroke="#2f55dd" stroke-width="1.2"/>
<path d="M338.3 711.6L342.5 715.8M338.3 715.8L342.5 711.6" fill="none" stroke="#2f55dd" stroke-width="1.2"/>
<path d="M328.0 699.3L332.2 703.5M328.0 703.5L332.2 699.3" fill="none" stroke="#2f55dd" stroke-width="1.2"/>
<path d="M338.8 727.6L343.0 731.8M338.8 731.8L343.0 727.6" fill="none" stroke="#2f55dd" stroke-width="1.2"/>
<path d="M332.9 706.9L337.1 711.1M332.9 711.1L337.1 706.9" fill="none" stroke="#2f55dd" stroke-width="1.2"/>
<path d="M344.8 714.6L349.0 718.8M344.8 718.8L349.0 714.6" fill="none" stroke="#2f55dd" stroke-width="1.2"/>
<path d="M282.9 698.5L287.1 702.7M282.9 702.7L287.1 698.5" fill="none" stroke="#2f55dd" stroke-width="1.2"/>
<path d="M275.8 687.3L280.0 691.5M275.8 691.5L280.0 687.3" fill="none" stroke="#2f55dd" stroke-width="1.2"/>
<path d="M300.9 696.8L305.1 701.0M300.9 701.0L305.1 696.8" fill="none" stroke="#2f55dd" stroke-width="1.2"/>
<path d="M375.9 717.9L380.1 722.1M375.9 722.1L380.1 717.9" fill="none" stroke="#2f55dd" stroke-width="1.2"/>
<path d="M388.2 746.5L392.4 750.7M388.2 750.7L392.4 746.5" fill="none" stroke="#2f55dd" stroke-width="1.2"/>
<path d="M160.4 661.9H166.2M163.3 659.0V664.8" fill="none" stroke="#14ab45" stroke-width="1.3"/>
<path d="M167.5 651.7H173.3M170.4 648.8V654.6" fill="none" stroke="#14ab45" stroke-width="1.3"/>
<path d="M168.1 650.0H173.9M171.0 647.1V652.9" fill="none" stroke="#14ab45" stroke-width="1.3"/>
<path d="M169.2 668.3H175.0M172.1 665.4V671.2" fill="none" stroke="#14ab45" stroke-width="1.3"/>
<path d="M171.8 647.1H177.6M174.7 644.2V650.0" fill="none" stroke="#14ab45" stroke-width="1.3"/>
<path d="M175.2 670.0H181.0M178.1 667.1V672.9" fill="none" stroke="#14ab45" stroke-width="1.3"/>
<path d="M175.7 671.0H181.5M178.6 668.1V673.9" fill="none" stroke="#14ab45" stroke-width="1.3"/>
<path d="M179.0 663.3H184.8M181.9 660.4V666.2" fill="none" stroke="#14ab45" stroke-width="1.3"/>
<path d="M179.2 666.0H185.0M182.1 663.1V668.9" fill="none" stroke="#14ab45" stroke-width="1.3"/>
<path d="M181.7 665.7H187.5M184.6 662.8V668.6" fill="none" stroke="#14ab45" stroke-width="1.3"/>
<path d="M182.1 688.9H187.9M185.0 686.0V691.8" fill="none" stroke="#14ab45" stroke-width="1.3"/>
<path d="M182.4 675.7H188.2M185.3 672.8V678.6" fill="none" stroke="#14ab45" stroke-width="1.3"/>
<path d="M187.1 670.7H192.9M190.0 667.8V673.6" fill="none" stroke="#14ab45" stroke-width="1.3"/>
<path d="M187.1 674.3H192.9M190.0 671.4V677.2" fill="none" stroke="#14ab45" stroke-width="1.3"/>
<path d="M189.2 672.1H195.0M192.1 669.2V675.0" fill="none" stroke="#14ab45" stroke-width="1.3"/>
<path d="M190.0 670.0H195.8M192.9 667.1V672.9" fill="none" stroke="#14ab45" stroke-width="1.3"/>
<path d="M190.4 688.9H196.2M193.3 686.0V691.8" fill="none" stroke="#14ab45" stroke-width="1.3"/>
<path d="M190.7 673.6H196.5M193.6 670.7V676.5" fill="none" stroke="#14ab45" stroke-width="1.3"/>
<path d="M190.8 657.6H196.6M193.7 654.7V660.5" fill="none" stroke="#14ab45" stroke-width="1.3"/>
<path d="M191.4 678.6H197.2M194.3 675.7V681.5" fill="none" stroke="#14ab45" stroke-width="1.3"/>
<path d="M192.4 681.4H198.2M195.3 678.5V684.3" fill="none" stroke="#14ab45" stroke-width="1.3"/>
<path d="M192.8 672.6H198.6M195.7 669.7V675.5" fill="none" stroke="#14ab45" stroke-width="1.3"/>
<path d="M193.1 694.0H198.9M196.0 691.1V696.9" fill="none" stroke="#14ab45" stroke-width="1.3"/>
<path d="M195.2 683.6H201.0M198.1 680.7V686.5" fill="none" stroke="#14ab45" stroke-width="1.3"/>
<path d="M195.7 688.9H201.5M198.6 686.0V691.8" fill="none" stroke="#14ab45" stroke-width="1.3"/>
<path d="M197.8 685.7H203.6M200.7 682.8V688.6" fill="none" stroke="#14ab45" stroke-width="1.3"/>
<path d="M201.8 680.0H207.6M204.7 677.1V682.9" fill="none" stroke="#14ab45" stroke-width="1.3"/>
<path d="M203.0 679.3H208.8M205.9 676.4V682.2" fill="none" stroke="#14ab45" stroke-width="1.3"/>
<path d="M220.4 690.9H226.2M223.3 688.0V693.8" fill="none" stroke="#14ab45" stroke-width="1.3"/>
<path d="M227.9 824.4L230.2 828.6L225.5 828.6Z" fill="none" stroke="#ee2255" stroke-width="1.25"/>
<path d="M208.6 766.9L210.9 771.2L206.2 771.2Z" fill="none" stroke="#ee2255" stroke-width="1.25"/>
<path d="M210.4 760.1L212.8 764.3L208.1 764.3Z" fill="none" stroke="#ee2255" stroke-width="1.25"/>
<path d="M211.7 764.9L214.1 769.2L209.3 769.2Z" fill="none" stroke="#ee2255" stroke-width="1.25"/>
<path d="M217.6 783.5L219.9 787.8L215.2 787.8Z" fill="none" stroke="#ee2255" stroke-width="1.25"/>
<path d="M218.9 803.6L221.2 807.9L216.5 807.9Z" fill="none" stroke="#ee2255" stroke-width="1.25"/>
<path d="M220.4 783.2L222.8 787.5L218.1 787.5Z" fill="none" stroke="#ee2255" stroke-width="1.25"/>
<path d="M223.6 788.2L225.9 792.5L221.2 792.5Z" fill="none" stroke="#ee2255" stroke-width="1.25"/>
<path d="M225.4 794.4L227.8 798.6L223.1 798.6Z" fill="none" stroke="#ee2255" stroke-width="1.25"/>
<path d="M642.4 612.9L646.6 617.1M642.4 617.1L646.6 612.9" fill="none" stroke="#2f55dd" stroke-width="1.2"/>
<path d="M642.1 617.6L646.3 621.8M642.1 621.8L646.3 617.6" fill="none" stroke="#2f55dd" stroke-width="1.2"/>
<path d="M620.3 628.2L624.5 632.4M620.3 632.4L624.5 628.2" fill="none" stroke="#2f55dd" stroke-width="1.2"/>
<path d="M590.7 662.6L594.9 666.8M590.7 666.8L594.9 662.6" fill="none" stroke="#2f55dd" stroke-width="1.2"/>
<path d="M588.1 671.6L592.3 675.8M588.1 675.8L592.3 671.6" fill="none" stroke="#2f55dd" stroke-width="1.2"/>
<path d="M591.5 648.3L595.7 652.5M591.5 652.5L595.7 648.3" fill="none" stroke="#2f55dd" stroke-width="1.2"/>
<path d="M588.9 657.6L593.1 661.8M588.9 661.8L593.1 657.6" fill="none" stroke="#2f55dd" stroke-width="1.2"/>
<path d="M584.6 665.5L588.8 669.7M584.6 669.7L588.8 665.5" fill="none" stroke="#2f55dd" stroke-width="1.2"/>
<path d="M580.6 651.6L584.8 655.8M580.6 655.8L584.8 651.6" fill="none" stroke="#2f55dd" stroke-width="1.2"/>
<path d="M551.2 735.5L555.4 739.7M551.2 739.7L555.4 735.5" fill="none" stroke="#2f55dd" stroke-width="1.2"/>
<path d="M544.8 747.8L549.0 752.0M544.8 752.0L549.0 747.8" fill="none" stroke="#2f55dd" stroke-width="1.2"/>
<path d="M543.0 683.6L547.2 687.8M543.0 687.8L547.2 683.6" fill="none" stroke="#2f55dd" stroke-width="1.2"/>
<path d="M525.2 701.3L529.4 705.5M525.2 705.5L529.4 701.3" fill="none" stroke="#2f55dd" stroke-width="1.2"/>
<path d="M524.9 706.2L529.1 710.4M524.9 710.4L529.1 706.2" fill="none" stroke="#2f55dd" stroke-width="1.2"/>
<path d="M522.6 711.6L526.8 715.8M522.6 715.8L526.8 711.6" fill="none" stroke="#2f55dd" stroke-width="1.2"/>
<path d="M515.9 699.3L520.1 703.5M515.9 703.5L520.1 699.3" fill="none" stroke="#2f55dd" stroke-width="1.2"/>
<path d="M507.9 727.6L512.1 731.8M507.9 731.8L512.1 727.6" fill="none" stroke="#2f55dd" stroke-width="1.2"/>
<path d="M494.9 706.9L499.1 711.1M494.9 711.1L499.1 706.9" fill="none" stroke="#2f55dd" stroke-width="1.2"/>
<path d="M484.8 714.6L489.0 718.8M484.8 718.8L489.0 714.6" fill="none" stroke="#2f55dd" stroke-width="1.2"/>
<path d="M491.9 698.5L496.1 702.7M491.9 702.7L496.1 698.5" fill="none" stroke="#2f55dd" stroke-width="1.2"/>
<path d="M482.5 687.3L486.7 691.5M482.5 691.5L486.7 687.3" fill="none" stroke="#2f55dd" stroke-width="1.2"/>
<path d="M476.9 696.8L481.1 701.0M476.9 701.0L481.1 696.8" fill="none" stroke="#2f55dd" stroke-width="1.2"/>
<path d="M433.3 717.9L437.5 722.1M433.3 722.1L437.5 717.9" fill="none" stroke="#2f55dd" stroke-width="1.2"/>
<path d="M415.3 746.5L419.5 750.7M415.3 750.7L419.5 746.5" fill="none" stroke="#2f55dd" stroke-width="1.2"/>
<path d="M529.1 647.0H534.9M532.0 644.1V649.9" fill="none" stroke="#14ab45" stroke-width="1.3"/>
<path d="M533.9 651.8H539.6M536.8 648.9V654.6" fill="none" stroke="#14ab45" stroke-width="1.3"/>
<path d="M545.4 650.8H551.1M548.2 647.9V653.6" fill="none" stroke="#14ab45" stroke-width="1.3"/>
<path d="M529.1 657.0H534.9M532.0 654.1V659.9" fill="none" stroke="#14ab45" stroke-width="1.3"/>
<path d="M557.1 661.8H562.9M560.0 658.9V664.6" fill="none" stroke="#14ab45" stroke-width="1.3"/>
<path d="M535.9 663.8H541.6M538.8 660.9V666.6" fill="none" stroke="#14ab45" stroke-width="1.3"/>
<path d="M532.1 667.0H537.9M535.0 664.1V669.9" fill="none" stroke="#14ab45" stroke-width="1.3"/>
<path d="M546.4 666.2H552.1M549.2 663.4V669.1" fill="none" stroke="#14ab45" stroke-width="1.3"/>
<path d="M516.6 670.8H522.4M519.5 667.9V673.6" fill="none" stroke="#14ab45" stroke-width="1.3"/>
<path d="M523.9 672.5H529.6M526.8 669.6V675.4" fill="none" stroke="#14ab45" stroke-width="1.3"/>
<path d="M533.4 670.0H539.1M536.2 667.1V672.9" fill="none" stroke="#14ab45" stroke-width="1.3"/>
<path d="M548.4 670.0H554.1M551.2 667.1V672.9" fill="none" stroke="#14ab45" stroke-width="1.3"/>
<path d="M569.1 669.5H574.9M572.0 666.6V672.4" fill="none" stroke="#14ab45" stroke-width="1.3"/>
<path d="M515.9 675.8H521.6M518.8 672.9V678.6" fill="none" stroke="#14ab45" stroke-width="1.3"/>
<path d="M530.9 675.8H536.6M533.8 672.9V678.6" fill="none" stroke="#14ab45" stroke-width="1.3"/>
<path d="M539.6 675.8H545.4M542.5 672.9V678.6" fill="none" stroke="#14ab45" stroke-width="1.3"/>
<path d="M547.1 672.5H552.9M550.0 669.6V675.4" fill="none" stroke="#14ab45" stroke-width="1.3"/>
<path d="M501.6 680.0H507.4M504.5 677.1V682.9" fill="none" stroke="#14ab45" stroke-width="1.3"/>
<path d="M518.9 680.0H524.6M521.8 677.1V682.9" fill="none" stroke="#14ab45" stroke-width="1.3"/>
<path d="M544.6 680.0H550.4M547.5 677.1V682.9" fill="none" stroke="#14ab45" stroke-width="1.3"/>
<path d="M537.1 685.0H542.9M540.0 682.1V687.9" fill="none" stroke="#14ab45" stroke-width="1.3"/>
<path d="M542.9 682.5H548.6M545.8 679.6V685.4" fill="none" stroke="#14ab45" stroke-width="1.3"/>
<path d="M522.9 688.8H528.6M525.8 685.9V691.6" fill="none" stroke="#14ab45" stroke-width="1.3"/>
<path d="M530.4 688.2H536.1M533.2 685.4V691.1" fill="none" stroke="#14ab45" stroke-width="1.3"/>
<path d="M534.1 693.8H539.9M537.0 690.9V696.6" fill="none" stroke="#14ab45" stroke-width="1.3"/>
<path d="M553.4 690.0H559.1M556.2 687.1V692.9" fill="none" stroke="#14ab45" stroke-width="1.3"/>
<path d="M557.1 688.8H562.9M560.0 685.9V691.6" fill="none" stroke="#14ab45" stroke-width="1.3"/>
<path d="M612.9 824.4L615.2 828.6L610.5 828.6Z" fill="none" stroke="#ee2255" stroke-width="1.25"/>
<path d="M586.4 766.9L588.8 771.2L584.0 771.2Z" fill="none" stroke="#ee2255" stroke-width="1.25"/>
<path d="M581.8 760.1L584.2 764.3L579.4 764.3Z" fill="none" stroke="#ee2255" stroke-width="1.25"/>
<path d="M581.5 764.9L583.9 769.2L579.1 769.2Z" fill="none" stroke="#ee2255" stroke-width="1.25"/>
<path d="M585.9 783.5L588.3 787.8L583.6 787.8Z" fill="none" stroke="#ee2255" stroke-width="1.25"/>
<path d="M591.7 803.6L594.1 807.9L589.4 807.9Z" fill="none" stroke="#ee2255" stroke-width="1.25"/>
<path d="M587.9 783.2L590.3 787.5L585.5 787.5Z" fill="none" stroke="#ee2255" stroke-width="1.25"/>
<path d="M589.5 788.2L591.8 792.5L587.1 792.5Z" fill="none" stroke="#ee2255" stroke-width="1.25"/>
<path d="M590.2 794.4L592.6 798.6L587.8 798.6Z" fill="none" stroke="#ee2255" stroke-width="1.25"/>
</g>
<line x1="448.1" y1="127.9" x2="448.1" y2="122.9" stroke="#333" stroke-width="1.3"/>
<line x1="497.8" y1="127.9" x2="497.8" y2="122.9" stroke="#333" stroke-width="1.3"/>
<line x1="547.4" y1="127.9" x2="547.4" y2="122.9" stroke="#333" stroke-width="1.3"/>
<line x1="597.0" y1="127.9" x2="597.0" y2="122.9" stroke="#333" stroke-width="1.3"/>
<line x1="646.7" y1="127.9" x2="646.7" y2="122.9" stroke="#333" stroke-width="1.3"/>
<line x1="158.7" y1="835.9" x2="158.7" y2="840.9" stroke="#333" stroke-width="1.3"/>
<line x1="205.6" y1="835.9" x2="205.6" y2="840.9" stroke="#333" stroke-width="1.3"/>
<line x1="252.6" y1="835.9" x2="252.6" y2="840.9" stroke="#333" stroke-width="1.3"/>
<line x1="299.6" y1="835.9" x2="299.6" y2="840.9" stroke="#333" stroke-width="1.3"/>
<line x1="346.5" y1="835.9" x2="346.5" y2="840.9" stroke="#333" stroke-width="1.3"/>
<line x1="393.5" y1="835.9" x2="393.5" y2="840.9" stroke="#333" stroke-width="1.3"/>
<line x1="679.3" y1="835.9" x2="679.3" y2="840.9" stroke="#333" stroke-width="1.3"/>
<line x1="746.1" y1="835.9" x2="746.1" y2="840.9" stroke="#333" stroke-width="1.3"/>
<line x1="812.9" y1="835.9" x2="812.9" y2="840.9" stroke="#333" stroke-width="1.3"/>
<line x1="879.7" y1="835.9" x2="879.7" y2="840.9" stroke="#333" stroke-width="1.3"/>
<line x1="908.5" y1="133.7" x2="913.5" y2="133.7" stroke="#333" stroke-width="1.3"/>
<line x1="908.5" y1="177.7" x2="913.5" y2="177.7" stroke="#333" stroke-width="1.3"/>
<line x1="908.5" y1="221.7" x2="913.5" y2="221.7" stroke="#333" stroke-width="1.3"/>
<line x1="908.5" y1="265.7" x2="913.5" y2="265.7" stroke="#333" stroke-width="1.3"/>
<line x1="908.5" y1="309.7" x2="913.5" y2="309.7" stroke="#333" stroke-width="1.3"/>
<line x1="908.5" y1="353.7" x2="913.5" y2="353.7" stroke="#333" stroke-width="1.3"/>
<line x1="154.9" y1="373.7" x2="149.9" y2="373.7" stroke="#333" stroke-width="1.3"/>
<line x1="154.9" y1="420.0" x2="149.9" y2="420.0" stroke="#333" stroke-width="1.3"/>
<line x1="154.9" y1="466.4" x2="149.9" y2="466.4" stroke="#333" stroke-width="1.3"/>
<line x1="154.9" y1="512.8" x2="149.9" y2="512.8" stroke="#333" stroke-width="1.3"/>
<line x1="154.9" y1="559.1" x2="149.9" y2="559.1" stroke="#333" stroke-width="1.3"/>
<line x1="908.5" y1="633.4" x2="913.5" y2="633.4" stroke="#333" stroke-width="1.3"/>
<line x1="908.5" y1="696.0" x2="913.5" y2="696.0" stroke="#333" stroke-width="1.3"/>
<line x1="908.5" y1="758.6" x2="913.5" y2="758.6" stroke="#333" stroke-width="1.3"/>
<line x1="908.5" y1="821.3" x2="913.5" y2="821.3" stroke="#333" stroke-width="1.3"/>
<text transform="matrix(0.8953 0 0 1 416.30 121.30)" font-family='"Liberation Sans", Arial, Helvetica, sans-serif' font-size="32.00" fill="#000" stroke="#000" stroke-width="0.29" stroke-linejoin="round">–10</text>
<text transform="matrix(0.8995 0 0 1 470.00 121.30)" font-family='"Liberation Sans", Arial, Helvetica, sans-serif' font-size="32.00" fill="#000" stroke="#000" stroke-width="0.29" stroke-linejoin="round">–5</text>
<text transform="matrix(1.0286 0 0 1 529.78 121.30)" font-family='"Liberation Sans", Arial, Helvetica, sans-serif' font-size="32.00" fill="#000" stroke="#000" stroke-width="0.29" stroke-linejoin="round">0</text>
<text transform="matrix(1.0658 0 0 1 581.44 121.30)" font-family='"Liberation Sans", Arial, Helvetica, sans-serif' font-size="32.00" fill="#000" stroke="#000" stroke-width="0.29" stroke-linejoin="round">5</text>
<text transform="matrix(1.0000 0 0 1 621.60 121.30)" font-family='"Liberation Sans", Arial, Helvetica, sans-serif' font-size="32.00" fill="#000" stroke="#000" stroke-width="0.29" stroke-linejoin="round">10</text>
<text transform="matrix(0.8857 0 0 1 913.17 144.30)" font-family='"Liberation Sans", Arial, Helvetica, sans-serif' font-size="32.00" fill="#000" stroke="#000" stroke-width="0.29" stroke-linejoin="round">15</text>
<text transform="matrix(0.8813 0 0 1 913.18 187.50)" font-family='"Liberation Sans", Arial, Helvetica, sans-serif' font-size="32.00" fill="#000" stroke="#000" stroke-width="0.29" stroke-linejoin="round">10</text>
<text transform="matrix(0.9868 0 0 1 915.24 232.50)" font-family='"Liberation Sans", Arial, Helvetica, sans-serif' font-size="32.00" fill="#000" stroke="#000" stroke-width="0.29" stroke-linejoin="round">5</text>
<text transform="matrix(0.9245 0 0 1 914.12 275.00)" font-family='"Liberation Sans", Arial, Helvetica, sans-serif' font-size="32.00" fill="#000" stroke="#000" stroke-width="0.29" stroke-linejoin="round">0</text>
<text transform="matrix(0.9054 0 0 1 911.00 318.80)" font-family='"Liberation Sans", Arial, Helvetica, sans-serif' font-size="32.00" fill="#000" stroke="#000" stroke-width="0.29" stroke-linejoin="round">–5</text>
<text transform="matrix(0.8723 0 0 1 911.00 361.30)" font-family='"Liberation Sans", Arial, Helvetica, sans-serif' font-size="32.00" fill="#000" stroke="#000" stroke-width="0.29" stroke-linejoin="round">–10</text>
<text transform="matrix(0.9938 0 0 1 115.11 385.50)" font-family='"Liberation Sans", Arial, Helvetica, sans-serif' font-size="32.00" fill="#000" stroke="#000" stroke-width="0.29" stroke-linejoin="round">10</text>
<text transform="matrix(1.1053 0 0 1 131.09 427.50)" font-family='"Liberation Sans", Arial, Helvetica, sans-serif' font-size="32.00" fill="#000" stroke="#000" stroke-width="0.29" stroke-linejoin="round">5</text>
<text transform="matrix(0.9766 0 0 1 132.55 477.50)" font-family='"Liberation Sans", Arial, Helvetica, sans-serif' font-size="32.00" fill="#000" stroke="#000" stroke-width="0.29" stroke-linejoin="round">0</text>
<text transform="matrix(1.0018 0 0 1 115.00 519.70)" font-family='"Liberation Sans", Arial, Helvetica, sans-serif' font-size="32.00" fill="#000" stroke="#000" stroke-width="0.29" stroke-linejoin="round">–5</text>
<text transform="matrix(1.0027 0 0 1 97.00 566.50)" font-family='"Liberation Sans", Arial, Helvetica, sans-serif' font-size="32.00" fill="#000" stroke="#000" stroke-width="0.29" stroke-linejoin="round">–10</text>
<text transform="matrix(1.1184 0 0 1 913.57 641.30)" font-family='"Liberation Sans", Arial, Helvetica, sans-serif' font-size="32.00" fill="#000" stroke="#000" stroke-width="0.29" stroke-linejoin="round">5</text>
<text transform="matrix(1.0286 0 0 1 913.68 704.50)" font-family='"Liberation Sans", Arial, Helvetica, sans-serif' font-size="32.00" fill="#000" stroke="#000" stroke-width="0.29" stroke-linejoin="round">0</text>
<text transform="matrix(0.9492 0 0 1 911.30 767.00)" font-family='"Liberation Sans", Arial, Helvetica, sans-serif' font-size="32.00" fill="#000" stroke="#000" stroke-width="0.29" stroke-linejoin="round">–5</text>
<text transform="matrix(0.9720 0 0 1 911.30 827.50)" font-family='"Liberation Sans", Arial, Helvetica, sans-serif' font-size="32.00" fill="#000" stroke="#000" stroke-width="0.29" stroke-linejoin="round">–10</text>
<text transform="matrix(0.9586 0 0 1 122.50 867.00)" font-family='"Liberation Sans", Arial, Helvetica, sans-serif' font-size="32.00" fill="#000" stroke="#000" stroke-width="0.29" stroke-linejoin="round">–10</text>
<text transform="matrix(0.9784 0 0 1 178.30 867.00)" font-family='"Liberation Sans", Arial, Helvetica, sans-serif' font-size="32.00" fill="#000" stroke="#000" stroke-width="0.29" stroke-linejoin="round">–5</text>
<text transform="matrix(1.0417 0 0 1 241.97 867.00)" font-family='"Liberation Sans", Arial, Helvetica, sans-serif' font-size="32.00" fill="#000" stroke="#000" stroke-width="0.29" stroke-linejoin="round">0</text>
<text transform="matrix(1.0329 0 0 1 287.98 867.00)" font-family='"Liberation Sans", Arial, Helvetica, sans-serif' font-size="32.00" fill="#000" stroke="#000" stroke-width="0.29" stroke-linejoin="round">5</text>
<text transform="matrix(0.9750 0 0 1 326.46 867.00)" font-family='"Liberation Sans", Arial, Helvetica, sans-serif' font-size="32.00" fill="#000" stroke="#000" stroke-width="0.29" stroke-linejoin="round">10</text>
<text transform="matrix(0.9642 0 0 1 371.49 867.00)" font-family='"Liberation Sans", Arial, Helvetica, sans-serif' font-size="32.00" fill="#000" stroke="#000" stroke-width="0.29" stroke-linejoin="round">15</text>
<text transform="matrix(0.9835 0 0 1 635.00 866.30)" font-family='"Liberation Sans", Arial, Helvetica, sans-serif' font-size="32.00" fill="#000" stroke="#000" stroke-width="0.29" stroke-linejoin="round">–10</text>
<text transform="matrix(1.0222 0 0 1 712.50 866.30)" font-family='"Liberation Sans", Arial, Helvetica, sans-serif' font-size="32.00" fill="#000" stroke="#000" stroke-width="0.29" stroke-linejoin="round">–5</text>
<text transform="matrix(1.0286 0 0 1 793.68 866.30)" font-family='"Liberation Sans", Arial, Helvetica, sans-serif' font-size="32.00" fill="#000" stroke="#000" stroke-width="0.29" stroke-linejoin="round">0</text>
<text transform="matrix(1.0329 0 0 1 859.98 866.30)" font-family='"Liberation Sans", Arial, Helvetica, sans-serif' font-size="32.00" fill="#000" stroke="#000" stroke-width="0.29" stroke-linejoin="round">5</text>
<text transform="matrix(0.9567 0 0 1 226.10 217.00)" font-family='"Liberation Sans", Arial, Helvetica, sans-serif' font-size="51.00" fill="#000" stroke="#000" stroke-width="0.46" stroke-linejoin="round">PC1</text>
<text transform="matrix(0.9645 0 0 1 218.04 270.50)" font-family='"Liberation Sans", Arial, Helvetica, sans-serif' font-size="50.71" fill="#000" stroke="#000" stroke-width="0.46" stroke-linejoin="round">37.8%</text>
<text transform="matrix(0.9963 0 0 1 481.90 439.00)" font-family='"Liberation Sans", Arial, Helvetica, sans-serif' font-size="51.43" fill="#000" stroke="#000" stroke-width="0.46" stroke-linejoin="round">PC2</text>
<text transform="matrix(0.9479 0 0 1 468.39 493.50)" font-family='"Liberation Sans", Arial, Helvetica, sans-serif' font-size="50.71" fill="#000" stroke="#000" stroke-width="0.46" stroke-linejoin="round">10.2%</text>
<text transform="matrix(1.0132 0 0 1 717.87 702.00)" font-family='"Liberation Sans", Arial, Helvetica, sans-serif' font-size="51.00" fill="#000" stroke="#000" stroke-width="0.46" stroke-linejoin="round">PC3</text>
<text transform="matrix(0.9817 0 0 1 738.29 760.00)" font-family='"Liberation Sans", Arial, Helvetica, sans-serif' font-size="50.00" fill="#000" stroke="#000" stroke-width="0.45" stroke-linejoin="round">8%</text>
<text transform="matrix(0.9872 0 0 1 53.75 121.20)" font-family='"Liberation Sans", Arial, Helvetica, sans-serif' font-size="94.06" fill="#000" stroke="#000" stroke-width="0.85" stroke-linejoin="round">A</text>
<text transform="matrix(0.9062 0 0 1 1586.19 127.10)" font-family='"Liberation Sans", Arial, Helvetica, sans-serif' font-size="92.61" fill="#000" stroke="#000" stroke-width="0.83" stroke-linejoin="round">B</text>
<text transform="matrix(1.0190 0 0 1 1571.26 1287.00)" font-family='"Liberation Sans", Arial, Helvetica, sans-serif' font-size="83.14" fill="#000" stroke="#000" stroke-width="0.75" stroke-linejoin="round">C</text>
<path d="M975.4 119.3L994.6 147.5L956.2 147.5Z" fill="none" stroke="#e8142c" stroke-width="2.7" stroke-linejoin="miter"/>
<text transform="matrix(0.9784 0 0 1 996.23 157.10)" font-family='"Liberation Sans", Arial, Helvetica, sans-serif' font-size="57.14" fill="#000" stroke="#000" stroke-width="0.51" stroke-linejoin="round">LDO</text>
<g filter="url(#b1)"><path d="M956 191.4H986.4M972.9 173.6V210" fill="none" stroke="#1fb552" stroke-width="5"/></g>
<text transform="matrix(0.9360 0 0 1 990.39 210.70)" font-family='"Liberation Sans", Arial, Helvetica, sans-serif' font-size="59.57" fill="#000" stroke="#000" stroke-width="0.54" stroke-linejoin="round">SDO</text>
<g filter="url(#b1)"><path d="M961 231.5L986 257M961 257L986 231.5" fill="none" stroke="#3d63e0" stroke-width="4.2"/></g>
<text transform="matrix(0.9315 0 0 1 990.41 262.10)" font-family='"Liberation Sans", Arial, Helvetica, sans-serif' font-size="59.45" fill="#000" stroke="#000" stroke-width="0.54" stroke-linejoin="round">Shallot</text>
<g id="big">
<line x1="236.6" y1="903.2" x2="236.6" y2="1669.3" stroke="#f5f5f5" stroke-width="1"/>
<line x1="373.9" y1="903.2" x2="373.9" y2="1669.3" stroke="#f5f5f5" stroke-width="1"/>
<line x1="511.1" y1="903.2" x2="511.1" y2="1669.3" stroke="#f5f5f5" stroke-width="1"/>
<line x1="648.4" y1="903.2" x2="648.4" y2="1669.3" stroke="#f5f5f5" stroke-width="1"/>
<line x1="785.6" y1="903.2" x2="785.6" y2="1669.3" stroke="#f5f5f5" stroke-width="1"/>
<line x1="148.5" y1="1621.2" x2="903.3" y2="1621.2" stroke="#f5f5f5" stroke-width="1"/>
<line x1="148.5" y1="1487.8" x2="903.3" y2="1487.8" stroke="#f5f5f5" stroke-width="1"/>
<line x1="148.5" y1="1354.2" x2="903.3" y2="1354.2" stroke="#f5f5f5" stroke-width="1"/>
<line x1="148.5" y1="1220.8" x2="903.3" y2="1220.8" stroke="#f5f5f5" stroke-width="1"/>
<line x1="148.5" y1="1087.2" x2="903.3" y2="1087.2" stroke="#f5f5f5" stroke-width="1"/>
<line x1="148.5" y1="953.8" x2="903.3" y2="953.8" stroke="#f5f5f5" stroke-width="1"/>
<line x1="168.0" y1="903.2" x2="168.0" y2="1669.3" stroke="#ebebeb" stroke-width="1.4"/>
<line x1="305.2" y1="903.2" x2="305.2" y2="1669.3" stroke="#ebebeb" stroke-width="1.4"/>
<line x1="442.5" y1="903.2" x2="442.5" y2="1669.3" stroke="#ebebeb" stroke-width="1.4"/>
<line x1="579.8" y1="903.2" x2="579.8" y2="1669.3" stroke="#ebebeb" stroke-width="1.4"/>
<line x1="717.0" y1="903.2" x2="717.0" y2="1669.3" stroke="#ebebeb" stroke-width="1.4"/>
<line x1="854.2" y1="903.2" x2="854.2" y2="1669.3" stroke="#ebebeb" stroke-width="1.4"/>
<line x1="148.5" y1="1554.5" x2="903.3" y2="1554.5" stroke="#ebebeb" stroke-width="1.4"/>
<line x1="148.5" y1="1421.0" x2="903.3" y2="1421.0" stroke="#ebebeb" stroke-width="1.4"/>
<line x1="148.5" y1="1287.5" x2="903.3" y2="1287.5" stroke="#ebebeb" stroke-width="1.4"/>
<line x1="148.5" y1="1154.0" x2="903.3" y2="1154.0" stroke="#ebebeb" stroke-width="1.4"/>
<line x1="148.5" y1="1020.5" x2="903.3" y2="1020.5" stroke="#ebebeb" stroke-width="1.4"/>
<ellipse cx="714" cy="1281" rx="129.2" ry="353.2" transform="rotate(15.6 714 1281)" fill="#ffd9d6" fill-opacity="0.55" stroke="#4f9cf5" stroke-width="1.6"/>
<ellipse cx="258.6" cy="1312.1" rx="66.5" ry="93.7" transform="rotate(-33 258.6 1312.1)" fill="#d6e6ff" fill-opacity="0.6" stroke="#10c060" stroke-width="2"/>
<ellipse cx="339.6" cy="1179.7" rx="23.2" ry="60.0" transform="rotate(51.6 339.6 1179.7)" fill="#bdf0d2" fill-opacity="0.6" stroke="#f88880" stroke-width="2"/>
<rect x="148.5" y="903.2" width="754.8" height="766.1" fill="none" stroke="#7a7a7a" stroke-width="1.6"/>
<circle cx="793.8" cy="1026.3" r="8.4" fill="#6a95e8"/>
<circle cx="696.8" cy="1085" r="8.4" fill="#6a95e8"/>
<circle cx="693.3" cy="1164.3" r="8.4" fill="#6a95e8"/>
<circle cx="764.3" cy="1162" r="8.4" fill="#6a95e8"/>
<circle cx="794.3" cy="1169.3" r="8.4" fill="#6a95e8"/>
<circle cx="744.5" cy="1171.3" r="8.4" fill="#6a95e8"/>
<circle cx="748.8" cy="1181.3" r="8.4" fill="#6a95e8"/>
<circle cx="758.8" cy="1190.8" r="8.4" fill="#6a95e8"/>
<circle cx="736.8" cy="1270" r="8.4" fill="#6a95e8"/>
<circle cx="732" cy="1287.5" r="8.4" fill="#6a95e8"/>
<circle cx="672.3" cy="1292.5" r="8.4" fill="#6a95e8"/>
<circle cx="677" cy="1339.5" r="8.4" fill="#6a95e8"/>
<circle cx="703.3" cy="1340" r="8.4" fill="#6a95e8"/>
<circle cx="698.8" cy="1346.3" r="8.4" fill="#6a95e8"/>
<circle cx="668.8" cy="1365" r="8.4" fill="#6a95e8"/>
<circle cx="700" cy="1386.3" r="8.4" fill="#6a95e8"/>
<circle cx="683" cy="1421" r="8.4" fill="#6a95e8"/>
<circle cx="718" cy="1448.8" r="8.4" fill="#6a95e8"/>
<circle cx="590" cy="1470" r="8.4" fill="#6a95e8"/>
<circle cx="537" cy="1429" r="8.4" fill="#2c98fb"/>
<circle cx="516.5" cy="1454.5" r="8.4" fill="#2c98fb"/>
<circle cx="808.8" cy="1586.8" r="8.4" fill="#2c98fb"/>
<circle cx="844.5" cy="1635" r="8.4" fill="#2c98fb"/>
<circle cx="243" cy="1254.4" r="8.8" fill="#05b550"/>
<circle cx="270.4" cy="1255.3" r="8.8" fill="#05b550"/>
<circle cx="208" cy="1276.7" r="8.8" fill="#05b550"/>
<circle cx="203.6" cy="1284.6" r="8.8" fill="#05b550"/>
<circle cx="245.8" cy="1283.3" r="8.8" fill="#05b550"/>
<circle cx="259.8" cy="1277.7" r="8.8" fill="#05b550"/>
<circle cx="273.7" cy="1287" r="8.8" fill="#05b550"/>
<circle cx="278.4" cy="1292.6" r="8.8" fill="#05b550"/>
<circle cx="270.9" cy="1301.9" r="8.8" fill="#05b550"/>
<circle cx="288.6" cy="1306.5" r="8.8" fill="#05b550"/>
<circle cx="284" cy="1314.9" r="8.8" fill="#05b550"/>
<circle cx="204.9" cy="1315.8" r="8.8" fill="#05b550"/>
<circle cx="234.7" cy="1311.2" r="8.8" fill="#05b550"/>
<circle cx="236.5" cy="1323.3" r="8.8" fill="#05b550"/>
<circle cx="213.8" cy="1330.7" r="8.8" fill="#05b550"/>
<circle cx="261.6" cy="1317.7" r="8.8" fill="#05b550"/>
<circle cx="266.3" cy="1326" r="8.8" fill="#05b550"/>
<circle cx="270.9" cy="1331.6" r="8.8" fill="#05b550"/>
<circle cx="282.1" cy="1341.9" r="8.8" fill="#05b550"/>
<circle cx="269.1" cy="1349.3" r="8.8" fill="#05b550"/>
<circle cx="284.9" cy="1346.5" r="8.8" fill="#05b550"/>
<circle cx="302.6" cy="1357.7" r="8.8" fill="#05b550"/>
<circle cx="226.7" cy="1365.1" r="8.8" fill="#05b550"/>
<circle cx="244.5" cy="1363.3" r="8.8" fill="#05b550"/>
<circle cx="267.2" cy="1312.1" r="8.8" fill="#05b550"/>
<circle cx="272.5" cy="1302.5" r="8.8" fill="#05b550"/>
<circle cx="286" cy="1306" r="8.8" fill="#05b550"/>
<circle cx="281" cy="1315" r="8.8" fill="#05b550"/>
<circle cx="224.0" cy="1220" r="8.8" fill="#0cb92e"/>
<circle cx="182.9" cy="1254.8" r="8.8" fill="#0cb92e"/>
<circle cx="357.4" cy="1266" r="8.8" fill="#0cb92e"/>
<circle cx="305.5" cy="1403.6" r="8.8" fill="#0cb92e"/>
<circle cx="313.3" cy="1182.8" r="9.0" fill="#ee7c60"/>
<circle cx="319.3" cy="1194" r="9.0" fill="#ee7c60"/>
<circle cx="343.5" cy="1167.9" r="9.0" fill="#ee7c60"/>
<circle cx="339.8" cy="1183.7" r="9.0" fill="#ee7c60"/>
<circle cx="348.1" cy="1180" r="9.0" fill="#ee7c60"/>
<circle cx="354.7" cy="1174.4" r="9.0" fill="#ee7c60"/>
<circle cx="362.1" cy="1171.6" r="9.0" fill="#ee7c60"/>
<circle cx="316.5" cy="1189.3" r="9.0" fill="#ee7c60"/>
<circle cx="369.5" cy="1111.5" r="8.2" fill="#fb7a74"/>
<line x1="168.0" y1="1669.3" x2="168.0" y2="1674.3" stroke="#555" stroke-width="1.4"/>
<line x1="305.2" y1="1669.3" x2="305.2" y2="1674.3" stroke="#555" stroke-width="1.4"/>
<line x1="442.5" y1="1669.3" x2="442.5" y2="1674.3" stroke="#555" stroke-width="1.4"/>
<line x1="579.8" y1="1669.3" x2="579.8" y2="1674.3" stroke="#555" stroke-width="1.4"/>
<line x1="717.0" y1="1669.3" x2="717.0" y2="1674.3" stroke="#555" stroke-width="1.4"/>
<line x1="854.2" y1="1669.3" x2="854.2" y2="1674.3" stroke="#555" stroke-width="1.4"/>
<line x1="143.5" y1="1554.5" x2="148.5" y2="1554.5" stroke="#555" stroke-width="1.4"/>
<line x1="143.5" y1="1421.0" x2="148.5" y2="1421.0" stroke="#555" stroke-width="1.4"/>
<line x1="143.5" y1="1287.5" x2="148.5" y2="1287.5" stroke="#555" stroke-width="1.4"/>
<line x1="143.5" y1="1154.0" x2="148.5" y2="1154.0" stroke="#555" stroke-width="1.4"/>
<line x1="143.5" y1="1020.5" x2="148.5" y2="1020.5" stroke="#555" stroke-width="1.4"/>
<text transform="matrix(0.9656 0 0 1 129.60 1704.20)" font-family='"Liberation Sans", Arial, Helvetica, sans-serif' font-size="34.50" fill="#000" stroke="#000" stroke-width="0.31" stroke-linejoin="round">–10</text>
<text transform="matrix(1.0673 0 0 1 279.30 1704.20)" font-family='"Liberation Sans", Arial, Helvetica, sans-serif' font-size="34.50" fill="#000" stroke="#000" stroke-width="0.31" stroke-linejoin="round">–5</text>
<text transform="matrix(1.0568 0 0 1 432.84 1704.20)" font-family='"Liberation Sans", Arial, Helvetica, sans-serif' font-size="34.50" fill="#000" stroke="#000" stroke-width="0.31" stroke-linejoin="round">0</text>
<text transform="matrix(1.0679 0 0 1 567.73 1704.20)" font-family='"Liberation Sans", Arial, Helvetica, sans-serif' font-size="34.50" fill="#000" stroke="#000" stroke-width="0.31" stroke-linejoin="round">5</text>
<text transform="matrix(1.0870 0 0 1 696.69 1704.20)" font-family='"Liberation Sans", Arial, Helvetica, sans-serif' font-size="34.50" fill="#000" stroke="#000" stroke-width="0.31" stroke-linejoin="round">10</text>
<text transform="matrix(1.0779 0 0 1 834.71 1704.20)" font-family='"Liberation Sans", Arial, Helvetica, sans-serif' font-size="34.50" fill="#000" stroke="#000" stroke-width="0.31" stroke-linejoin="round">15</text>
<text transform="matrix(1.0012 0 0 1 86.00 1566.50)" font-family='"Liberation Sans", Arial, Helvetica, sans-serif' font-size="34.50" fill="#000" stroke="#000" stroke-width="0.31" stroke-linejoin="round">–10</text>
<text transform="matrix(1.0375 0 0 1 104.00 1433.00)" font-family='"Liberation Sans", Arial, Helvetica, sans-serif' font-size="34.50" fill="#000" stroke="#000" stroke-width="0.31" stroke-linejoin="round">–5</text>
<text transform="matrix(1.0507 0 0 1 123.45 1299.50)" font-family='"Liberation Sans", Arial, Helvetica, sans-serif' font-size="34.50" fill="#000" stroke="#000" stroke-width="0.31" stroke-linejoin="round">0</text>
<text transform="matrix(1.0618 0 0 1 123.43 1166.00)" font-family='"Liberation Sans", Arial, Helvetica, sans-serif' font-size="34.50" fill="#000" stroke="#000" stroke-width="0.31" stroke-linejoin="round">5</text>
<text transform="matrix(1.1159 0 0 1 100.91 1032.50)" font-family='"Liberation Sans", Arial, Helvetica, sans-serif' font-size="34.50" fill="#000" stroke="#000" stroke-width="0.31" stroke-linejoin="round">10</text>
<text transform="matrix(0.9955 0 0 1 363.65 1757.10)" font-family='"Liberation Sans", Arial, Helvetica, sans-serif' font-size="57.10" fill="#000" stroke="#000" stroke-width="0.51" stroke-linejoin="round">PC1 (37.8%)</text>
<g transform="translate(95.8 1435.8) rotate(-90)"><text transform="matrix(0.9692 0 0 1 -4.49 0.00)" font-family='"Liberation Sans", Arial, Helvetica, sans-serif' font-size="57.97" fill="#000" stroke="#000" stroke-width="0.52" stroke-linejoin="round">PC2 (10.5%)</text></g>
<g filter="url(#b05)"><rect x="917.9" y="914.1" width="44.0" height="42.7" fill="#e6e4e2" stroke="#fb958c" stroke-width="3.6"/><circle cx="940.1" cy="935.7" r="16.9" fill="#fa6960"/></g>
<g filter="url(#b05)"><rect x="917.9" y="963.2" width="44.0" height="43.3" fill="#e6e4e2" stroke="#0fc55a" stroke-width="3.6"/><circle cx="940.1" cy="985.2" r="16.9" fill="#00aa28"/></g>
<g filter="url(#b05)"><rect x="917.9" y="1012.3" width="44.0" height="43.5" fill="#e6e4e2" stroke="#5aa5fb" stroke-width="3.6"/><circle cx="940.1" cy="1034.0" r="16.9" fill="#3791e6"/></g>
<text transform="matrix(0.9822 0 0 1 964.02 958.60)" font-family='"Liberation Sans", Arial, Helvetica, sans-serif' font-size="54.49" fill="#000" stroke="#000" stroke-width="0.49" stroke-linejoin="round">LDO</text>
<text transform="matrix(0.9877 0 0 1 963.41 1008.70)" font-family='"Liberation Sans", Arial, Helvetica, sans-serif' font-size="53.77" fill="#000" stroke="#000" stroke-width="0.48" stroke-linejoin="round">SDO</text>
<text transform="matrix(0.9826 0 0 1 965.29 1057.20)" font-family='"Liberation Sans", Arial, Helvetica, sans-serif' font-size="54.49" fill="#000" stroke="#000" stroke-width="0.49" stroke-linejoin="round">Shallot</text>
<text transform="matrix(1.0638 0 0 1 908.93 1346.60)" font-family='"Liberation Sans", Arial, Helvetica, sans-serif' font-size="44.64" fill="#000" stroke="#000" stroke-width="0.40" stroke-linejoin="round">Cluster</text>
<g filter="url(#b05)"><rect x="921.2" y="1356.9" width="47.2" height="41.5" fill="#e6e4e2" stroke="#fb958c" stroke-width="3.6"/><circle cx="945.1" cy="1377.0" r="17.9" fill="#fa6960"/></g>
<g filter="url(#b05)"><rect x="921.2" y="1405.1" width="47.2" height="44.6" fill="#e6e4e2" stroke="#0fc55a" stroke-width="3.6"/><circle cx="945.1" cy="1427.1" r="17.9" fill="#00aa28"/></g>
<g filter="url(#b05)"><rect x="921.2" y="1455.2" width="47.2" height="43.4" fill="#e6e4e2" stroke="#5aa5fb" stroke-width="3.6"/><circle cx="945.1" cy="1476.6" r="17.9" fill="#3791e6"/></g>
<text transform="matrix(1.1602 0 0 1 977.36 1394.60)" font-family='"Liberation Sans", Arial, Helvetica, sans-serif' font-size="45.36" fill="#000" stroke="#000" stroke-width="0.41" stroke-linejoin="round">I</text>
<text transform="matrix(1.0222 0 0 1 975.40 1440.00)" font-family='"Liberation Sans", Arial, Helvetica, sans-serif' font-size="45.65" fill="#000" stroke="#000" stroke-width="0.41" stroke-linejoin="round">II</text>
<text transform="matrix(1.0548 0 0 1 975.87 1489.10)" font-family='"Liberation Sans", Arial, Helvetica, sans-serif' font-size="45.65" fill="#000" stroke="#000" stroke-width="0.41" stroke-linejoin="round">III</text>
</g>
<line x1="1651" y1="164.7" x2="2023" y2="164.7" stroke="#b2b2b2" stroke-width="1.6" stroke-dasharray="1.8 2.8"/>
<line x1="1651" y1="195.1" x2="2023" y2="195.1" stroke="#b2b2b2" stroke-width="1.6" stroke-dasharray="1.8 2.8"/>
<line x1="1651" y1="225.3" x2="2023" y2="225.3" stroke="#b2b2b2" stroke-width="1.6" stroke-dasharray="1.8 2.8"/>
<line x1="1651" y1="254.5" x2="2023" y2="254.5" stroke="#b2b2b2" stroke-width="1.6" stroke-dasharray="1.8 2.8"/>
<line x1="1651" y1="284.9" x2="2023" y2="284.9" stroke="#b2b2b2" stroke-width="1.6" stroke-dasharray="1.8 2.8"/>
<line x1="1651" y1="314.9" x2="2023" y2="314.9" stroke="#b2b2b2" stroke-width="1.6" stroke-dasharray="1.8 2.8"/>
<line x1="1651" y1="344.4" x2="2023" y2="344.4" stroke="#b2b2b2" stroke-width="1.6" stroke-dasharray="1.8 2.8"/>
<line x1="1651" y1="374.4" x2="2023" y2="374.4" stroke="#b2b2b2" stroke-width="1.6" stroke-dasharray="1.8 2.8"/>
<line x1="1651" y1="403.8" x2="2023" y2="403.8" stroke="#b2b2b2" stroke-width="1.6" stroke-dasharray="1.8 2.8"/>
<line x1="1651" y1="433.8" x2="2023" y2="433.8" stroke="#b2b2b2" stroke-width="1.6" stroke-dasharray="1.8 2.8"/>
<line x1="1651" y1="463.8" x2="2023" y2="463.8" stroke="#b2b2b2" stroke-width="1.6" stroke-dasharray="1.8 2.8"/>
<line x1="1651" y1="493.6" x2="2023" y2="493.6" stroke="#b2b2b2" stroke-width="1.6" stroke-dasharray="1.8 2.8"/>
<line x1="1651" y1="529.3" x2="2023" y2="529.3" stroke="#b2b2b2" stroke-width="1.6" stroke-dasharray="1.8 2.8"/>
<line x1="1651" y1="558.3" x2="2023" y2="558.3" stroke="#b2b2b2" stroke-width="1.6" stroke-dasharray="1.8 2.8"/>
<rect x="1647.8" y="135.0" width="377.8" height="452.6" fill="none" stroke="#555" stroke-width="1.6"/>
<ellipse cx="2006.1" cy="167.3" rx="13.6" ry="13.6" fill="#0672c6"/>
<rect x="2046.6" y="163.5" width="18.0" height="16.0" fill="#c9102f" stroke="#0a0a0a" stroke-width="1.4"/>
<rect x="2069.2" y="163.5" width="18.0" height="16.0" fill="#f3ebc3" stroke="#0a0a0a" stroke-width="1.4"/>
<rect x="2091.7" y="163.5" width="20.2" height="16.0" fill="#3a3ca4" stroke="#0a0a0a" stroke-width="1.4"/>
<ellipse cx="1840.5" cy="191.3" rx="13.6" ry="13.6" fill="#0672c6"/>
<rect x="2046.6" y="193.9" width="18.0" height="16.0" fill="#c9102f" stroke="#0a0a0a" stroke-width="1.4"/>
<rect x="2069.2" y="193.9" width="18.0" height="16.0" fill="#f3ebc3" stroke="#0a0a0a" stroke-width="1.4"/>
<rect x="2091.7" y="193.9" width="20.2" height="16.0" fill="#3a3ca4" stroke="#0a0a0a" stroke-width="1.4"/>
<ellipse cx="1806.3" cy="225.5" rx="13.6" ry="13.6" fill="#0672c6"/>
<rect x="2046.6" y="223.4" width="18.0" height="16.0" fill="#3a3ca4" stroke="#0a0a0a" stroke-width="1.4"/>
<rect x="2069.2" y="223.4" width="18.0" height="16.0" fill="#f3ebc3" stroke="#0a0a0a" stroke-width="1.4"/>
<rect x="2091.7" y="223.4" width="20.2" height="16.0" fill="#c9102f" stroke="#0a0a0a" stroke-width="1.4"/>
<ellipse cx="1792.8" cy="257.0" rx="13.6" ry="13.6" fill="#0672c6"/>
<rect x="2047.2" y="250.5" width="18.0" height="16.0" fill="#c9102f" stroke="#0a0a0a" stroke-width="1.4"/>
<rect x="2069.8" y="250.5" width="18.0" height="16.0" fill="#f3ebc3" stroke="#0a0a0a" stroke-width="1.4"/>
<rect x="2092.3" y="250.5" width="20.2" height="16.0" fill="#3a3ca4" stroke="#0a0a0a" stroke-width="1.4"/>
<ellipse cx="1773.3" cy="283.8" rx="13.6" ry="13.6" fill="#0672c6"/>
<rect x="2047.2" y="280.5" width="18.0" height="16.0" fill="#f3ebc3" stroke="#0a0a0a" stroke-width="1.4"/>
<rect x="2069.8" y="280.5" width="18.0" height="16.0" fill="#3a3ca4" stroke="#0a0a0a" stroke-width="1.4"/>
<rect x="2092.3" y="280.5" width="20.2" height="16.0" fill="#c9102f" stroke="#0a0a0a" stroke-width="1.4"/>
<ellipse cx="1759.5" cy="314.3" rx="13.6" ry="13.6" fill="#0672c6"/>
<rect x="2047.2" y="310.1" width="18.0" height="16.0" fill="#3a3ca4" stroke="#0a0a0a" stroke-width="1.4"/>
<rect x="2069.8" y="310.1" width="18.0" height="16.0" fill="#f3ebc3" stroke="#0a0a0a" stroke-width="1.4"/>
<rect x="2092.3" y="310.1" width="20.2" height="16.0" fill="#c9102f" stroke="#0a0a0a" stroke-width="1.4"/>
<ellipse cx="1752.3" cy="344.3" rx="13.6" ry="13.6" fill="#0672c6"/>
<rect x="2047.4" y="339.9" width="18.0" height="16.0" fill="#f3ebc3" stroke="#0a0a0a" stroke-width="1.4"/>
<rect x="2070.0" y="339.9" width="18.0" height="16.0" fill="#3a3ca4" stroke="#0a0a0a" stroke-width="1.4"/>
<rect x="2092.5" y="339.9" width="20.2" height="16.0" fill="#c9102f" stroke="#0a0a0a" stroke-width="1.4"/>
<ellipse cx="1745.5" cy="375.0" rx="13.6" ry="13.6" fill="#0672c6"/>
<rect x="2047.4" y="370.2" width="18.0" height="16.0" fill="#f3ebc3" stroke="#0a0a0a" stroke-width="1.4"/>
<rect x="2070.0" y="370.2" width="18.0" height="16.0" fill="#c9102f" stroke="#0a0a0a" stroke-width="1.4"/>
<rect x="2092.5" y="370.2" width="20.2" height="16.0" fill="#3a3ca4" stroke="#0a0a0a" stroke-width="1.4"/>
<ellipse cx="1738.8" cy="408.3" rx="13.6" ry="13.6" fill="#0672c6"/>
<rect x="2047.4" y="398.7" width="18.0" height="16.0" fill="#f3ebc3" stroke="#0a0a0a" stroke-width="1.4"/>
<rect x="2070.0" y="398.7" width="18.0" height="16.0" fill="#3a3ca4" stroke="#0a0a0a" stroke-width="1.4"/>
<rect x="2092.5" y="398.7" width="20.2" height="16.0" fill="#c9102f" stroke="#0a0a0a" stroke-width="1.4"/>
<ellipse cx="1730.5" cy="436.3" rx="13.6" ry="13.6" fill="#0672c6"/>
<rect x="2047.4" y="428.5" width="18.0" height="16.0" fill="#3a3ca4" stroke="#0a0a0a" stroke-width="1.4"/>
<rect x="2070.0" y="428.5" width="18.0" height="16.0" fill="#f3ebc3" stroke="#0a0a0a" stroke-width="1.4"/>
<rect x="2092.5" y="428.5" width="20.2" height="16.0" fill="#c9102f" stroke="#0a0a0a" stroke-width="1.4"/>
<ellipse cx="1725.0" cy="467.0" rx="13.6" ry="13.6" fill="#0672c6"/>
<rect x="2047.4" y="458.7" width="18.0" height="16.0" fill="#c9102f" stroke="#0a0a0a" stroke-width="1.4"/>
<rect x="2070.0" y="458.7" width="18.0" height="16.0" fill="#f3ebc3" stroke="#0a0a0a" stroke-width="1.4"/>
<rect x="2092.5" y="458.7" width="20.2" height="16.0" fill="#3a3ca4" stroke="#0a0a0a" stroke-width="1.4"/>
<ellipse cx="1725.0" cy="495.8" rx="13.6" ry="13.6" fill="#0672c6"/>
<rect x="2047.4" y="488.4" width="18.0" height="16.0" fill="#f3ebc3" stroke="#0a0a0a" stroke-width="1.4"/>
<rect x="2070.0" y="488.4" width="18.0" height="16.0" fill="#3a3ca4" stroke="#0a0a0a" stroke-width="1.4"/>
<rect x="2092.5" y="488.4" width="20.2" height="16.0" fill="#c9102f" stroke="#0a0a0a" stroke-width="1.4"/>
<ellipse cx="1703.3" cy="530.8" rx="13.6" ry="13.6" fill="#0672c6"/>
<rect x="2047.4" y="520.2" width="18.0" height="16.0" fill="#f3ebc3" stroke="#0a0a0a" stroke-width="1.4"/>
<rect x="2070.0" y="520.2" width="18.0" height="16.0" fill="#3a3ca4" stroke="#0a0a0a" stroke-width="1.4"/>
<rect x="2092.5" y="520.2" width="20.2" height="16.0" fill="#c9102f" stroke="#0a0a0a" stroke-width="1.4"/>
<ellipse cx="1664.5" cy="558.3" rx="13.6" ry="13.6" fill="#0672c6"/>
<rect x="2047.4" y="550.0" width="18.0" height="16.0" fill="#f3ebc3" stroke="#0a0a0a" stroke-width="1.4"/>
<rect x="2070.0" y="550.0" width="18.0" height="16.0" fill="#3a3ca4" stroke="#0a0a0a" stroke-width="1.4"/>
<rect x="2092.5" y="550.0" width="20.2" height="16.0" fill="#c9102f" stroke="#0a0a0a" stroke-width="1.4"/>
<text transform="matrix(1.0814 0 0 1 1269.30 168.80)" font-family='"Liberation Sans", Arial, Helvetica, sans-serif' font-size="37.10" font-style="italic" fill="#000" stroke="#000" stroke-width="0.33" stroke-linejoin="round">N</text>
<text transform="matrix(1.0814 0 0 1 1298.27 168.80)" font-family='"Liberation Sans", Arial, Helvetica, sans-serif' font-size="37.10" fill="#000" stroke="#000" stroke-width="0.33" stroke-linejoin="round">-acetylneurmic acid</text>
<text transform="matrix(1.0775 0 0 1 1481.80 198.30)" font-family='"Liberation Sans", Arial, Helvetica, sans-serif' font-size="37.10" fill="#000" stroke="#000" stroke-width="0.33" stroke-linejoin="round">Histidinol</text>
<text transform="matrix(1.0864 0 0 1 1468.48 230.50)" font-family='"Liberation Sans", Arial, Helvetica, sans-serif' font-size="37.10" fill="#000" stroke="#000" stroke-width="0.33" stroke-linejoin="round">2-CPGTH</text>
<text transform="matrix(1.0767 0 0 1 1348.90 260.50)" font-family='"Liberation Sans", Arial, Helvetica, sans-serif' font-size="37.10" fill="#000" stroke="#000" stroke-width="0.33" stroke-linejoin="round">3-Methyladenine</text>
<text transform="matrix(1.0795 0 0 1 1483.20 292.50)" font-family='"Liberation Sans", Arial, Helvetica, sans-serif' font-size="37.10" fill="#000" stroke="#000" stroke-width="0.33" stroke-linejoin="round">Ornithine</text>
<text transform="matrix(1.0818 0 0 1 1279.79 321.30)" font-family='"Liberation Sans", Arial, Helvetica, sans-serif' font-size="37.10" fill="#000" stroke="#000" stroke-width="0.33" stroke-linejoin="round">Methionine sulfoxide</text>
<text transform="matrix(1.0759 0 0 1 1410.50 353.80)" font-family='"Liberation Sans", Arial, Helvetica, sans-serif' font-size="37.10" fill="#000" stroke="#000" stroke-width="0.33" stroke-linejoin="round">Allantoic acid</text>
<text transform="matrix(1.0763 0 0 1 1359.31 383.80)" font-family='"Liberation Sans", Arial, Helvetica, sans-serif' font-size="37.10" fill="#000" stroke="#000" stroke-width="0.33" stroke-linejoin="round">Hydroxypyridine</text>
<text transform="matrix(1.0792 0 0 1 997.00 417.50)" font-family='"Liberation Sans", Arial, Helvetica, sans-serif' font-size="37.10" fill="#000" stroke="#000" stroke-width="0.33" stroke-linejoin="round">1,1-Dimethylbiguanide hydrochloride</text>
<rect x="1403.0" y="419.3" width="243.5" height="11" fill="#fff"/>
<text transform="matrix(1.0854 0 0 1 1401.79 449.50)" font-family='"Liberation Sans", Arial, Helvetica, sans-serif' font-size="37.10" fill="#000" stroke="#000" stroke-width="0.33" stroke-linejoin="round">Glutamic acid</text>
<text transform="matrix(1.0788 0 0 1 1462.50 479.50)" font-family='"Liberation Sans", Arial, Helvetica, sans-serif' font-size="37.10" fill="#000" stroke="#000" stroke-width="0.33" stroke-linejoin="round">Carnosine</text>
<text transform="matrix(1.0803 0 0 1 1490.59 509.50)" font-family='"Liberation Sans", Arial, Helvetica, sans-serif' font-size="37.10" fill="#000" stroke="#000" stroke-width="0.33" stroke-linejoin="round">Histidine</text>
<text transform="matrix(1.0836 0 0 1 1518.78 541.30)" font-family='"Liberation Sans", Arial, Helvetica, sans-serif' font-size="37.10" fill="#000" stroke="#000" stroke-width="0.33" stroke-linejoin="round">Proline</text>
<text transform="matrix(1.0739 0 0 1 1463.00 572.50)" font-family='"Liberation Sans", Arial, Helvetica, sans-serif' font-size="37.10" fill="#000" stroke="#000" stroke-width="0.33" stroke-linejoin="round">Threonine</text>
<text transform="matrix(0.9303 0 0 1 1652.48 165.90)" font-family='"Liberation Sans", Arial, Helvetica, sans-serif' font-size="37.86" fill="#000" stroke="#000" stroke-width="0.34" stroke-linejoin="round">PC1</text>
<line x1="1688" y1="587.6" x2="1688" y2="598.8" stroke="#555" stroke-width="1.5"/>
<line x1="1748.8" y1="587.6" x2="1748.8" y2="598.8" stroke="#555" stroke-width="1.5"/>
<line x1="1809.5" y1="587.6" x2="1809.5" y2="598.8" stroke="#555" stroke-width="1.5"/>
<line x1="1870" y1="587.6" x2="1870" y2="598.8" stroke="#555" stroke-width="1.5"/>
<line x1="1931.3" y1="587.6" x2="1931.3" y2="598.8" stroke="#555" stroke-width="1.5"/>
<line x1="1992" y1="587.6" x2="1992" y2="598.8" stroke="#555" stroke-width="1.5"/>
<text transform="matrix(1.0740 0 0 1 1657.01 628.00)" font-family='"Liberation Sans", Arial, Helvetica, sans-serif' font-size="37.14" fill="#000" stroke="#000" stroke-width="0.33" stroke-linejoin="round">1.55</text>
<text transform="matrix(1.0666 0 0 1 1785.83 628.00)" font-family='"Liberation Sans", Arial, Helvetica, sans-serif' font-size="37.14" fill="#000" stroke="#000" stroke-width="0.33" stroke-linejoin="round">1.65</text>
<text transform="matrix(1.0475 0 0 1 1905.88 626.00)" font-family='"Liberation Sans", Arial, Helvetica, sans-serif' font-size="37.14" fill="#000" stroke="#000" stroke-width="0.33" stroke-linejoin="round">1.75</text>
<g filter="url(#b1)"><rect x="2161.4" y="293.8" width="26.1" height="170.4" fill="url(#cb)"/></g>
<text transform="matrix(1.0297 0 0 1 2124.13 283.60)" font-family='"Liberation Sans", Arial, Helvetica, sans-serif' font-size="39.71" fill="#000" stroke="#000" stroke-width="0.36" stroke-linejoin="round">High</text>
<text transform="matrix(0.9885 0 0 1 2139.59 488.20)" font-family='"Liberation Sans", Arial, Helvetica, sans-serif' font-size="40.58" fill="#000" stroke="#000" stroke-width="0.37" stroke-linejoin="round">Low</text>
<text transform="translate(2052.0 162.2) rotate(-66) scale(1.0 1)" font-family='"Liberation Sans", Arial, Helvetica, sans-serif' font-size="36" fill="#000" stroke="#000" stroke-width="0.32">LDO</text>
<text transform="translate(2081.8 164.2) rotate(-66) scale(1.0 1)" font-family='"Liberation Sans", Arial, Helvetica, sans-serif' font-size="36" fill="#000" stroke="#000" stroke-width="0.32">SDO</text>
<text transform="translate(2112.0 165.7) rotate(-66) scale(1.0 1)" font-family='"Liberation Sans", Arial, Helvetica, sans-serif' font-size="36.5" fill="#000" stroke="#000" stroke-width="0.33">Shallot</text>
<line x1="1650" y1="706.3" x2="2022" y2="706.3" stroke="#b2b2b2" stroke-width="1.6" stroke-dasharray="1.8 2.8"/>
<line x1="1650" y1="737.2" x2="2022" y2="737.2" stroke="#b2b2b2" stroke-width="1.6" stroke-dasharray="1.8 2.8"/>
<line x1="1650" y1="768.5" x2="2022" y2="768.5" stroke="#b2b2b2" stroke-width="1.6" stroke-dasharray="1.8 2.8"/>
<line x1="1650" y1="797.5" x2="2022" y2="797.5" stroke="#b2b2b2" stroke-width="1.6" stroke-dasharray="1.8 2.8"/>
<line x1="1650" y1="828.0" x2="2022" y2="828.0" stroke="#b2b2b2" stroke-width="1.6" stroke-dasharray="1.8 2.8"/>
<line x1="1650" y1="859.0" x2="2022" y2="859.0" stroke="#b2b2b2" stroke-width="1.6" stroke-dasharray="1.8 2.8"/>
<line x1="1650" y1="888.8" x2="2022" y2="888.8" stroke="#b2b2b2" stroke-width="1.6" stroke-dasharray="1.8 2.8"/>
<line x1="1650" y1="919.0" x2="2022" y2="919.0" stroke="#b2b2b2" stroke-width="1.6" stroke-dasharray="1.8 2.8"/>
<line x1="1650" y1="949.0" x2="2022" y2="949.0" stroke="#b2b2b2" stroke-width="1.6" stroke-dasharray="1.8 2.8"/>
<line x1="1650" y1="979.5" x2="2022" y2="979.5" stroke="#b2b2b2" stroke-width="1.6" stroke-dasharray="1.8 2.8"/>
<line x1="1650" y1="1010.0" x2="2022" y2="1010.0" stroke="#b2b2b2" stroke-width="1.6" stroke-dasharray="1.8 2.8"/>
<line x1="1650" y1="1040.5" x2="2022" y2="1040.5" stroke="#b2b2b2" stroke-width="1.6" stroke-dasharray="1.8 2.8"/>
<line x1="1650" y1="1070.8" x2="2022" y2="1070.8" stroke="#b2b2b2" stroke-width="1.6" stroke-dasharray="1.8 2.8"/>
<line x1="1650" y1="1101.3" x2="2022" y2="1101.3" stroke="#b2b2b2" stroke-width="1.6" stroke-dasharray="1.8 2.8"/>
<line x1="1650" y1="1131.3" x2="2022" y2="1131.3" stroke="#b2b2b2" stroke-width="1.6" stroke-dasharray="1.8 2.8"/>
<rect x="1645.6" y="677.0" width="379.2" height="485.0" fill="none" stroke="#000" stroke-width="2.6"/>
<ellipse cx="2005.5" cy="704.3" rx="13.6" ry="13.6" fill="#0672c6"/>
<rect x="2044.2" y="698.9" width="18.8" height="15.4" fill="#c9102f" stroke="#0a0a0a" stroke-width="1.4"/>
<rect x="2067.8" y="698.9" width="18.8" height="15.4" fill="#f3ebc3" stroke="#0a0a0a" stroke-width="1.4"/>
<rect x="2091.7" y="698.9" width="20.6" height="15.4" fill="#3a3ca4" stroke="#0a0a0a" stroke-width="1.4"/>
<ellipse cx="1920.8" cy="735.0" rx="13.6" ry="13.6" fill="#0672c6"/>
<rect x="2044.2" y="729.8" width="18.8" height="15.4" fill="#c9102f" stroke="#0a0a0a" stroke-width="1.4"/>
<rect x="2067.8" y="729.8" width="18.8" height="15.4" fill="#f3ebc3" stroke="#0a0a0a" stroke-width="1.4"/>
<rect x="2091.7" y="729.8" width="20.6" height="15.4" fill="#3a3ca4" stroke="#0a0a0a" stroke-width="1.4"/>
<ellipse cx="1825.0" cy="762.0" rx="13.6" ry="13.6" fill="#0672c6"/>
<rect x="2044.2" y="759.8" width="18.8" height="15.4" fill="#c9102f" stroke="#0a0a0a" stroke-width="1.4"/>
<rect x="2067.8" y="759.8" width="18.8" height="15.4" fill="#f3ebc3" stroke="#0a0a0a" stroke-width="1.4"/>
<rect x="2091.7" y="759.8" width="20.6" height="15.4" fill="#3a3ca4" stroke="#0a0a0a" stroke-width="1.4"/>
<ellipse cx="1782.3" cy="797.3" rx="13.6" ry="13.6" fill="#0672c6"/>
<rect x="2044.2" y="790.2" width="18.8" height="15.4" fill="#c9102f" stroke="#0a0a0a" stroke-width="1.4"/>
<rect x="2067.8" y="790.2" width="18.8" height="15.4" fill="#f3ebc3" stroke="#0a0a0a" stroke-width="1.4"/>
<rect x="2091.7" y="790.2" width="20.6" height="15.4" fill="#3a3ca4" stroke="#0a0a0a" stroke-width="1.4"/>
<ellipse cx="1759.3" cy="826.3" rx="13.6" ry="13.6" fill="#0672c6"/>
<rect x="2044.2" y="820.8" width="18.8" height="15.4" fill="#c9102f" stroke="#0a0a0a" stroke-width="1.4"/>
<rect x="2067.8" y="820.8" width="18.8" height="15.4" fill="#f3ebc3" stroke="#0a0a0a" stroke-width="1.4"/>
<rect x="2091.7" y="820.8" width="20.6" height="15.4" fill="#3a3ca4" stroke="#0a0a0a" stroke-width="1.4"/>
<ellipse cx="1759.3" cy="860.5" rx="13.6" ry="13.6" fill="#0672c6"/>
<rect x="2044.2" y="851.1" width="18.8" height="15.4" fill="#c9102f" stroke="#0a0a0a" stroke-width="1.4"/>
<rect x="2067.8" y="851.1" width="18.8" height="15.4" fill="#f3ebc3" stroke="#0a0a0a" stroke-width="1.4"/>
<rect x="2091.7" y="851.1" width="20.6" height="15.4" fill="#3a3ca4" stroke="#0a0a0a" stroke-width="1.4"/>
<ellipse cx="1732.0" cy="887.5" rx="13.6" ry="13.6" fill="#0672c6"/>
<rect x="2044.2" y="880.9" width="18.8" height="15.4" fill="#c9102f" stroke="#0a0a0a" stroke-width="1.4"/>
<rect x="2067.8" y="880.9" width="18.8" height="15.4" fill="#3a3ca4" stroke="#0a0a0a" stroke-width="1.4"/>
<rect x="2091.7" y="880.9" width="20.6" height="15.4" fill="#f3ebc3" stroke="#0a0a0a" stroke-width="1.4"/>
<ellipse cx="1704.3" cy="914.5" rx="13.6" ry="13.6" fill="#0672c6"/>
<rect x="2044.2" y="911.9" width="18.8" height="15.4" fill="#3a3ca4" stroke="#0a0a0a" stroke-width="1.4"/>
<rect x="2067.8" y="911.9" width="18.8" height="15.4" fill="#f3ebc3" stroke="#0a0a0a" stroke-width="1.4"/>
<rect x="2091.7" y="911.9" width="20.6" height="15.4" fill="#c9102f" stroke="#0a0a0a" stroke-width="1.4"/>
<ellipse cx="1683.3" cy="947.5" rx="13.6" ry="13.6" fill="#0672c6"/>
<rect x="2044.2" y="941.9" width="18.8" height="15.4" fill="#f3ebc3" stroke="#0a0a0a" stroke-width="1.4"/>
<rect x="2067.8" y="941.9" width="18.8" height="15.4" fill="#3a3ca4" stroke="#0a0a0a" stroke-width="1.4"/>
<rect x="2091.7" y="941.9" width="20.6" height="15.4" fill="#c9102f" stroke="#0a0a0a" stroke-width="1.4"/>
<ellipse cx="1675.5" cy="980.5" rx="13.6" ry="13.6" fill="#0672c6"/>
<rect x="2044.2" y="971.9" width="18.8" height="15.4" fill="#c9102f" stroke="#0a0a0a" stroke-width="1.4"/>
<rect x="2067.8" y="971.9" width="18.8" height="15.4" fill="#3a3ca4" stroke="#0a0a0a" stroke-width="1.4"/>
<rect x="2091.7" y="971.9" width="20.6" height="15.4" fill="#f3ebc3" stroke="#0a0a0a" stroke-width="1.4"/>
<ellipse cx="1674.3" cy="1013.0" rx="13.6" ry="13.6" fill="#0672c6"/>
<rect x="2044.2" y="1002.9" width="18.8" height="15.4" fill="#3a3ca4" stroke="#0a0a0a" stroke-width="1.4"/>
<rect x="2067.8" y="1002.9" width="18.8" height="15.4" fill="#f3ebc3" stroke="#0a0a0a" stroke-width="1.4"/>
<rect x="2091.7" y="1002.9" width="20.6" height="15.4" fill="#c9102f" stroke="#0a0a0a" stroke-width="1.4"/>
<ellipse cx="1670.5" cy="1045.5" rx="13.6" ry="13.6" fill="#0672c6"/>
<rect x="2044.2" y="1032.9" width="18.8" height="15.4" fill="#f3ebc3" stroke="#0a0a0a" stroke-width="1.4"/>
<rect x="2067.8" y="1032.9" width="18.8" height="15.4" fill="#3a3ca4" stroke="#0a0a0a" stroke-width="1.4"/>
<rect x="2091.7" y="1032.9" width="20.6" height="15.4" fill="#c9102f" stroke="#0a0a0a" stroke-width="1.4"/>
<ellipse cx="1669.5" cy="1075.3" rx="13.6" ry="13.6" fill="#0672c6"/>
<rect x="2044.2" y="1063.2" width="18.8" height="15.4" fill="#f3ebc3" stroke="#0a0a0a" stroke-width="1.4"/>
<rect x="2067.8" y="1063.2" width="18.8" height="15.4" fill="#c9102f" stroke="#0a0a0a" stroke-width="1.4"/>
<rect x="2091.7" y="1063.2" width="20.6" height="15.4" fill="#3a3ca4" stroke="#0a0a0a" stroke-width="1.4"/>
<ellipse cx="1666.3" cy="1107.0" rx="13.6" ry="13.6" fill="#0672c6"/>
<rect x="2044.2" y="1093.3" width="18.8" height="15.4" fill="#f3ebc3" stroke="#0a0a0a" stroke-width="1.4"/>
<rect x="2067.8" y="1093.3" width="18.8" height="15.4" fill="#3a3ca4" stroke="#0a0a0a" stroke-width="1.4"/>
<rect x="2091.7" y="1093.3" width="20.6" height="15.4" fill="#c9102f" stroke="#0a0a0a" stroke-width="1.4"/>
<ellipse cx="1661.8" cy="1135.8" rx="13.6" ry="13.6" fill="#0672c6"/>
<rect x="2044.2" y="1123.3" width="18.8" height="15.4" fill="#3a3ca4" stroke="#0a0a0a" stroke-width="1.4"/>
<rect x="2067.8" y="1123.3" width="18.8" height="15.4" fill="#f3ebc3" stroke="#0a0a0a" stroke-width="1.4"/>
<rect x="2091.7" y="1123.3" width="20.6" height="15.4" fill="#c9102f" stroke="#0a0a0a" stroke-width="1.4"/>
<text transform="matrix(1.0852 0 0 1 1266.78 710.00)" font-family='"Liberation Sans", Arial, Helvetica, sans-serif' font-size="37.10" fill="#000" stroke="#000" stroke-width="0.33" stroke-linejoin="round">N-acetylneurmic acid</text>
<text transform="matrix(1.0841 0 0 1 1398.78 743.00)" font-family='"Liberation Sans", Arial, Helvetica, sans-serif' font-size="37.10" fill="#000" stroke="#000" stroke-width="0.33" stroke-linejoin="round">Pyridoxamine</text>
<text transform="matrix(1.0785 0 0 1 1347.90 777.50)" font-family='"Liberation Sans", Arial, Helvetica, sans-serif' font-size="37.10" fill="#000" stroke="#000" stroke-width="0.33" stroke-linejoin="round">3-Methyladenine</text>
<rect x="1464.0" y="779.6" width="179.5" height="11" fill="#fff"/>
<text transform="matrix(1.0788 0 0 1 1462.50 807.50)" font-family='"Liberation Sans", Arial, Helvetica, sans-serif' font-size="37.10" fill="#000" stroke="#000" stroke-width="0.33" stroke-linejoin="round">Carnosine</text>
<text transform="matrix(1.0809 0 0 1 1483.79 838.80)" font-family='"Liberation Sans", Arial, Helvetica, sans-serif' font-size="37.10" fill="#000" stroke="#000" stroke-width="0.33" stroke-linejoin="round">Histidinol</text>
<text transform="matrix(1.0803 0 0 1 1341.20 870.00)" font-family='"Liberation Sans", Arial, Helvetica, sans-serif' font-size="37.10" fill="#000" stroke="#000" stroke-width="0.33" stroke-linejoin="round">O-acetylcarnitine</text>
<rect x="1463.0" y="872.2" width="178.5" height="11" fill="#fff"/>
<text transform="matrix(1.0830 0 0 1 1461.79 900.00)" font-family='"Liberation Sans", Arial, Helvetica, sans-serif' font-size="37.10" fill="#000" stroke="#000" stroke-width="0.33" stroke-linejoin="round">Glutamine</text>
<text transform="matrix(1.0927 0 0 1 1468.47 931.80)" font-family='"Liberation Sans", Arial, Helvetica, sans-serif' font-size="37.10" fill="#000" stroke="#000" stroke-width="0.33" stroke-linejoin="round">2-CPGTH</text>
<text transform="matrix(1.0741 0 0 1 1483.21 961.30)" font-family='"Liberation Sans", Arial, Helvetica, sans-serif' font-size="37.10" fill="#000" stroke="#000" stroke-width="0.33" stroke-linejoin="round">Ornithine</text>
<text transform="matrix(1.0878 0 0 1 1503.07 991.30)" font-family='"Liberation Sans", Arial, Helvetica, sans-serif' font-size="37.10" fill="#000" stroke="#000" stroke-width="0.33" stroke-linejoin="round">Leucine</text>
<text transform="matrix(1.0830 0 0 1 1278.09 1021.30)" font-family='"Liberation Sans", Arial, Helvetica, sans-serif' font-size="37.10" fill="#000" stroke="#000" stroke-width="0.33" stroke-linejoin="round">Methionine sulfoxide</text>
<text transform="matrix(1.0782 0 0 1 1410.00 1053.00)" font-family='"Liberation Sans", Arial, Helvetica, sans-serif' font-size="37.10" fill="#000" stroke="#000" stroke-width="0.33" stroke-linejoin="round">Allantoic acid</text>
<text transform="matrix(1.0663 0 0 1 1325.42 1082.50)" font-family='"Liberation Sans", Arial, Helvetica, sans-serif' font-size="37.10" fill="#000" stroke="#000" stroke-width="0.33" stroke-linejoin="round">3-Hydroxypyridine</text>
<rect x="1240.0" y="1085.2" width="404.0" height="11" fill="#fff"/>
<text transform="matrix(1.0769 0 0 1 964.70 1117.50)" font-family='"Liberation Sans", Arial, Helvetica, sans-serif' font-size="37.10" fill="#000" stroke="#000" stroke-width="0.33" stroke-linejoin="round">1,1-Dimethylbiguanidine hydrochloride</text>
<text transform="matrix(1.0891 0 0 1 1400.48 1152.50)" font-family='"Liberation Sans", Arial, Helvetica, sans-serif' font-size="37.10" fill="#000" stroke="#000" stroke-width="0.33" stroke-linejoin="round">Glutamic acid</text>
<text transform="matrix(1.0872 0 0 1 1651.48 706.30)" font-family='"Liberation Sans", Arial, Helvetica, sans-serif' font-size="34.71" fill="#000" stroke="#000" stroke-width="0.31" stroke-linejoin="round">PC2</text>
<line x1="1654.3" y1="1162" x2="1654.3" y2="1171.3" stroke="#222" stroke-width="1.6"/>
<line x1="1732" y1="1162" x2="1732" y2="1171.3" stroke="#222" stroke-width="1.6"/>
<line x1="1810.8" y1="1162" x2="1810.8" y2="1171.3" stroke="#222" stroke-width="1.6"/>
<line x1="1887.8" y1="1162" x2="1887.8" y2="1171.3" stroke="#222" stroke-width="1.6"/>
<line x1="1965" y1="1162" x2="1965" y2="1171.3" stroke="#222" stroke-width="1.6"/>
<text transform="matrix(1.0204 0 0 1 1628.46 1202.50)" font-family='"Liberation Sans", Arial, Helvetica, sans-serif' font-size="37.14" fill="#000" stroke="#000" stroke-width="0.33" stroke-linejoin="round">1.4</text>
<text transform="matrix(1.0875 0 0 1 1782.97 1202.50)" font-family='"Liberation Sans", Arial, Helvetica, sans-serif' font-size="37.14" fill="#000" stroke="#000" stroke-width="0.33" stroke-linejoin="round">1.6</text>
<text transform="matrix(1.0833 0 0 1 1939.48 1198.80)" font-family='"Liberation Sans", Arial, Helvetica, sans-serif' font-size="37.14" fill="#000" stroke="#000" stroke-width="0.33" stroke-linejoin="round">1.8</text>
<text transform="matrix(1.0715 0 0 1 1740.80 1236.00)" font-family='"Liberation Sans", Arial, Helvetica, sans-serif' font-size="37.68" fill="#000" stroke="#000" stroke-width="0.34" stroke-linejoin="round">VIP scores</text>
<g filter="url(#b1)"><rect x="2168.0" y="816.3" width="25.5" height="170.0" fill="url(#cb)"/></g>
<text transform="matrix(1.0964 0 0 1 2130.72 805.00)" font-family='"Liberation Sans", Arial, Helvetica, sans-serif' font-size="37.39" fill="#000" stroke="#000" stroke-width="0.34" stroke-linejoin="round">High</text>
<text transform="matrix(1.0004 0 0 1 2146.67 1009.50)" font-family='"Liberation Sans", Arial, Helvetica, sans-serif' font-size="39.13" fill="#000" stroke="#000" stroke-width="0.35" stroke-linejoin="round">Low</text>
<line x1="1639" y1="1323.3" x2="2026" y2="1323.3" stroke="#b2b2b2" stroke-width="1.6" stroke-dasharray="1.8 2.8"/>
<line x1="1639" y1="1353.3" x2="2026" y2="1353.3" stroke="#b2b2b2" stroke-width="1.6" stroke-dasharray="1.8 2.8"/>
<line x1="1639" y1="1383.8" x2="2026" y2="1383.8" stroke="#b2b2b2" stroke-width="1.6" stroke-dasharray="1.8 2.8"/>
<line x1="1639" y1="1413.8" x2="2026" y2="1413.8" stroke="#b2b2b2" stroke-width="1.6" stroke-dasharray="1.8 2.8"/>
<line x1="1639" y1="1443.3" x2="2026" y2="1443.3" stroke="#b2b2b2" stroke-width="1.6" stroke-dasharray="1.8 2.8"/>
<line x1="1639" y1="1479.5" x2="2026" y2="1479.5" stroke="#b2b2b2" stroke-width="1.6" stroke-dasharray="1.8 2.8"/>
<line x1="1639" y1="1513.8" x2="2026" y2="1513.8" stroke="#b2b2b2" stroke-width="1.6" stroke-dasharray="1.8 2.8"/>
<line x1="1639" y1="1544.3" x2="2026" y2="1544.3" stroke="#b2b2b2" stroke-width="1.6" stroke-dasharray="1.8 2.8"/>
<line x1="1639" y1="1574.5" x2="2026" y2="1574.5" stroke="#b2b2b2" stroke-width="1.6" stroke-dasharray="1.8 2.8"/>
<line x1="1639" y1="1611.0" x2="2026" y2="1611.0" stroke="#b2b2b2" stroke-width="1.6" stroke-dasharray="1.8 2.8"/>
<line x1="1639" y1="1647.5" x2="2026" y2="1647.5" stroke="#b2b2b2" stroke-width="1.6" stroke-dasharray="1.8 2.8"/>
<line x1="1639" y1="1679.3" x2="2026" y2="1679.3" stroke="#b2b2b2" stroke-width="1.6" stroke-dasharray="1.8 2.8"/>
<line x1="1639" y1="1709.3" x2="2026" y2="1709.3" stroke="#b2b2b2" stroke-width="1.6" stroke-dasharray="1.8 2.8"/>
<rect x="1635.4" y="1293.0" width="392.8" height="445.8" fill="none" stroke="#3a3a3a" stroke-width="1.8"/>
<ellipse cx="2009.0" cy="1318.3" rx="13.7" ry="14.4" fill="#0672c6"/>
<rect x="2043.8" y="1311.3" width="19.4" height="19.4" fill="#f3ebc3" stroke="#0a0a0a" stroke-width="1.4"/>
<rect x="2068.8" y="1311.3" width="19.4" height="19.4" fill="#c9102f" stroke="#0a0a0a" stroke-width="1.4"/>
<rect x="2093.0" y="1311.3" width="21.4" height="19.4" fill="#3a3ca4" stroke="#0a0a0a" stroke-width="1.4"/>
<ellipse cx="1970.3" cy="1352.0" rx="13.7" ry="14.4" fill="#0672c6"/>
<rect x="2043.8" y="1341.3" width="19.4" height="19.4" fill="#f3ebc3" stroke="#0a0a0a" stroke-width="1.4"/>
<rect x="2068.8" y="1341.3" width="19.4" height="19.4" fill="#c9102f" stroke="#0a0a0a" stroke-width="1.4"/>
<rect x="2093.0" y="1341.3" width="21.4" height="19.4" fill="#3a3ca4" stroke="#0a0a0a" stroke-width="1.4"/>
<ellipse cx="1947.8" cy="1381.5" rx="13.7" ry="14.4" fill="#0672c6"/>
<rect x="2043.8" y="1373.2" width="19.4" height="19.4" fill="#f3ebc3" stroke="#0a0a0a" stroke-width="1.4"/>
<rect x="2068.8" y="1373.2" width="19.4" height="19.4" fill="#3a3ca4" stroke="#0a0a0a" stroke-width="1.4"/>
<rect x="2093.0" y="1373.2" width="21.4" height="19.4" fill="#c9102f" stroke="#0a0a0a" stroke-width="1.4"/>
<ellipse cx="1876.5" cy="1410.8" rx="13.7" ry="14.4" fill="#0672c6"/>
<rect x="2043.8" y="1402.1" width="19.4" height="19.4" fill="#f3ebc3" stroke="#0a0a0a" stroke-width="1.4"/>
<rect x="2068.8" y="1402.1" width="19.4" height="19.4" fill="#3a3ca4" stroke="#0a0a0a" stroke-width="1.4"/>
<rect x="2093.0" y="1402.1" width="21.4" height="19.4" fill="#c9102f" stroke="#0a0a0a" stroke-width="1.4"/>
<ellipse cx="1863.5" cy="1440.8" rx="13.7" ry="14.4" fill="#0672c6"/>
<rect x="2043.8" y="1434.7" width="19.4" height="19.4" fill="#f3ebc3" stroke="#0a0a0a" stroke-width="1.4"/>
<rect x="2068.8" y="1434.7" width="19.4" height="19.4" fill="#3a3ca4" stroke="#0a0a0a" stroke-width="1.4"/>
<rect x="2093.0" y="1434.7" width="21.4" height="19.4" fill="#c9102f" stroke="#0a0a0a" stroke-width="1.4"/>
<ellipse cx="1861.8" cy="1478.3" rx="13.7" ry="14.4" fill="#0672c6"/>
<rect x="2042.6" y="1469.7" width="19.4" height="19.4" fill="#f3ebc3" stroke="#0a0a0a" stroke-width="1.4"/>
<rect x="2067.6" y="1469.7" width="19.4" height="19.4" fill="#3a3ca4" stroke="#0a0a0a" stroke-width="1.4"/>
<rect x="2091.8" y="1469.7" width="21.4" height="19.4" fill="#c9102f" stroke="#0a0a0a" stroke-width="1.4"/>
<ellipse cx="1821.0" cy="1511.8" rx="13.7" ry="14.4" fill="#0672c6"/>
<rect x="2042.6" y="1502.8" width="19.4" height="19.4" fill="#f3ebc3" stroke="#0a0a0a" stroke-width="1.4"/>
<rect x="2067.6" y="1502.8" width="19.4" height="19.4" fill="#3a3ca4" stroke="#0a0a0a" stroke-width="1.4"/>
<rect x="2091.8" y="1502.8" width="21.4" height="19.4" fill="#c9102f" stroke="#0a0a0a" stroke-width="1.4"/>
<ellipse cx="1817.3" cy="1544.5" rx="13.7" ry="14.4" fill="#0672c6"/>
<rect x="2042.6" y="1535.7" width="19.4" height="19.4" fill="#f3ebc3" stroke="#0a0a0a" stroke-width="1.4"/>
<rect x="2067.6" y="1535.7" width="19.4" height="19.4" fill="#3a3ca4" stroke="#0a0a0a" stroke-width="1.4"/>
<rect x="2091.8" y="1535.7" width="21.4" height="19.4" fill="#c9102f" stroke="#0a0a0a" stroke-width="1.4"/>
<ellipse cx="1788.3" cy="1575.5" rx="13.7" ry="14.4" fill="#0672c6"/>
<rect x="2041.8" y="1567.4" width="19.4" height="19.4" fill="#f3ebc3" stroke="#0a0a0a" stroke-width="1.4"/>
<rect x="2066.8" y="1567.4" width="19.4" height="19.4" fill="#3a3ca4" stroke="#0a0a0a" stroke-width="1.4"/>
<rect x="2091.0" y="1567.4" width="21.4" height="19.4" fill="#c9102f" stroke="#0a0a0a" stroke-width="1.4"/>
<ellipse cx="1710.0" cy="1612.2" rx="13.7" ry="14.4" fill="#0672c6"/>
<rect x="2040.6" y="1602.1" width="19.4" height="19.4" fill="#f3ebc3" stroke="#0a0a0a" stroke-width="1.4"/>
<rect x="2065.6" y="1602.1" width="19.4" height="19.4" fill="#3a3ca4" stroke="#0a0a0a" stroke-width="1.4"/>
<rect x="2089.8" y="1602.1" width="21.4" height="19.4" fill="#c9102f" stroke="#0a0a0a" stroke-width="1.4"/>
<ellipse cx="1677.5" cy="1645.5" rx="13.7" ry="14.4" fill="#0672c6"/>
<rect x="2039.8" y="1636.8" width="19.4" height="19.4" fill="#f3ebc3" stroke="#0a0a0a" stroke-width="1.4"/>
<rect x="2064.8" y="1636.8" width="19.4" height="19.4" fill="#3a3ca4" stroke="#0a0a0a" stroke-width="1.4"/>
<rect x="2089.0" y="1636.8" width="21.4" height="19.4" fill="#c9102f" stroke="#0a0a0a" stroke-width="1.4"/>
<ellipse cx="1660.5" cy="1680.2" rx="13.7" ry="14.4" fill="#0672c6"/>
<rect x="2039.8" y="1669.8" width="19.4" height="19.4" fill="#c9102f" stroke="#0a0a0a" stroke-width="1.4"/>
<rect x="2064.8" y="1669.8" width="19.4" height="19.4" fill="#f3ebc3" stroke="#0a0a0a" stroke-width="1.4"/>
<rect x="2089.0" y="1669.8" width="21.4" height="19.4" fill="#3a3ca4" stroke="#0a0a0a" stroke-width="1.4"/>
<ellipse cx="1652.5" cy="1714.0" rx="13.7" ry="14.4" fill="#0672c6"/>
<rect x="2039.8" y="1700.7" width="19.4" height="19.4" fill="#f3ebc3" stroke="#0a0a0a" stroke-width="1.4"/>
<rect x="2064.8" y="1700.7" width="19.4" height="19.4" fill="#3a3ca4" stroke="#0a0a0a" stroke-width="1.4"/>
<rect x="2089.0" y="1700.7" width="21.4" height="19.4" fill="#c9102f" stroke="#0a0a0a" stroke-width="1.4"/>
<text transform="matrix(1.0866 0 0 1 1283.89 1323.80)" font-family='"Liberation Sans", Arial, Helvetica, sans-serif' font-size="37.10" fill="#000" stroke="#000" stroke-width="0.33" stroke-linejoin="round">3-Amio-1,2,4-triazol</text>
<text transform="matrix(1.0867 0 0 1 1121.07 1359.80)" font-family='"Liberation Sans", Arial, Helvetica, sans-serif' font-size="37.10" fill="#000" stroke="#000" stroke-width="0.33" stroke-linejoin="round">D-Glucosamine 6-phosphate</text>
<rect x="1449.0" y="1363.2" width="185.0" height="11" fill="#fff"/>
<text transform="matrix(1.0853 0 0 1 1446.28 1390.30)" font-family='"Liberation Sans", Arial, Helvetica, sans-serif' font-size="37.10" fill="#000" stroke="#000" stroke-width="0.33" stroke-linejoin="round">Pyridoxine</text>
<text transform="matrix(1.0889 0 0 1 1436.27 1422.40)" font-family='"Liberation Sans", Arial, Helvetica, sans-serif' font-size="37.10" fill="#000" stroke="#000" stroke-width="0.33" stroke-linejoin="round">Methionine</text>
<text transform="matrix(1.0869 0 0 1 1429.77 1456.00)" font-family='"Liberation Sans", Arial, Helvetica, sans-serif' font-size="37.10" fill="#000" stroke="#000" stroke-width="0.33" stroke-linejoin="round">Kynurenine</text>
<text transform="matrix(1.0897 0 0 1 1260.00 1493.50)" font-family='"Liberation Serif", "Times New Roman", serif' font-size="40.07" fill="#000" stroke="#000" stroke-width="0.36" stroke-linejoin="round">γ</text>
<text transform="matrix(1.0897 0 0 1 1279.29 1493.50)" font-family='"Liberation Sans", Arial, Helvetica, sans-serif' font-size="37.10" fill="#000" stroke="#000" stroke-width="0.33" stroke-linejoin="round">-Glutamyl PRENCS</text>
<text transform="matrix(1.0917 0 0 1 1383.76 1527.30)" font-family='"Liberation Sans", Arial, Helvetica, sans-serif' font-size="37.10" fill="#000" stroke="#000" stroke-width="0.33" stroke-linejoin="round">Pipecolic acid</text>
<text transform="matrix(1.0678 0 0 1 1548.80 1560.30)" font-family='"Liberation Sans", Arial, Helvetica, sans-serif' font-size="37.10" fill="#000" stroke="#000" stroke-width="0.33" stroke-linejoin="round">ACC</text>
<text transform="matrix(1.0765 0 0 1 1057.00 1591.20)" font-family='"Liberation Sans", Arial, Helvetica, sans-serif' font-size="37.10" fill="#000" stroke="#000" stroke-width="0.33" stroke-linejoin="round">1-Methylguanidine hydrochloride</text>
<rect x="1332.0" y="1593.2" width="302.0" height="11" fill="#fff"/>
<text transform="matrix(1.0876 0 0 1 1328.77 1623.00)" font-family='"Liberation Sans", Arial, Helvetica, sans-serif' font-size="37.10" fill="#000" stroke="#000" stroke-width="0.33" stroke-linejoin="round">Homoglutathione</text>
<text transform="matrix(1.0804 0 0 1 1435.59 1660.50)" font-family='"Liberation Sans", Arial, Helvetica, sans-serif' font-size="37.10" fill="#000" stroke="#000" stroke-width="0.33" stroke-linejoin="round">PRENCSO</text>
<text transform="matrix(1.0873 0 0 1 1258.07 1691.80)" font-family='"Liberation Sans", Arial, Helvetica, sans-serif' font-size="37.10" fill="#000" stroke="#000" stroke-width="0.33" stroke-linejoin="round">N-acetylneurmic acid</text>
<text transform="matrix(1.0842 0 0 1 1413.80 1722.30)" font-family='"Liberation Sans", Arial, Helvetica, sans-serif' font-size="37.10" fill="#000" stroke="#000" stroke-width="0.33" stroke-linejoin="round">Allantoi acid</text>
<line x1="1674.5" y1="1738.8" x2="1674.5" y2="1747.5" stroke="#333" stroke-width="1.5"/>
<line x1="1728" y1="1738.8" x2="1728" y2="1747.5" stroke="#333" stroke-width="1.5"/>
<line x1="1781.3" y1="1738.8" x2="1781.3" y2="1747.5" stroke="#333" stroke-width="1.5"/>
<line x1="1834.3" y1="1738.8" x2="1834.3" y2="1747.5" stroke="#333" stroke-width="1.5"/>
<line x1="1886.3" y1="1738.8" x2="1886.3" y2="1747.5" stroke="#333" stroke-width="1.5"/>
<line x1="1939.5" y1="1738.8" x2="1939.5" y2="1747.5" stroke="#333" stroke-width="1.5"/>
<line x1="1992.5" y1="1738.8" x2="1992.5" y2="1747.5" stroke="#333" stroke-width="1.5"/>
<text transform="matrix(1.0489 0 0 1 1646.40 1778.00)" font-family='"Liberation Sans", Arial, Helvetica, sans-serif' font-size="38.21" fill="#000" stroke="#000" stroke-width="0.34" stroke-linejoin="round">0.013</text>
<text transform="matrix(1.0543 0 0 1 1754.69 1778.00)" font-family='"Liberation Sans", Arial, Helvetica, sans-serif' font-size="38.21" fill="#000" stroke="#000" stroke-width="0.34" stroke-linejoin="round">0.015</text>
<text transform="matrix(1.0261 0 0 1 1858.93 1777.00)" font-family='"Liberation Sans", Arial, Helvetica, sans-serif' font-size="38.21" fill="#000" stroke="#000" stroke-width="0.34" stroke-linejoin="round">0.017</text>
<text transform="matrix(1.0424 0 0 1 1966.71 1775.80)" font-family='"Liberation Sans", Arial, Helvetica, sans-serif' font-size="38.21" fill="#000" stroke="#000" stroke-width="0.34" stroke-linejoin="round">0.019</text>
<g filter="url(#b1)"><rect x="2171.0" y="1455.0" width="25.5" height="176.3" fill="url(#cb)"/></g>
<text transform="matrix(1.0757 0 0 1 2132.67 1443.00)" font-family='"Liberation Sans", Arial, Helvetica, sans-serif' font-size="38.70" fill="#000" stroke="#000" stroke-width="0.35" stroke-linejoin="round">High</text>
<text transform="matrix(1.0008 0 0 1 2149.11 1656.30)" font-family='"Liberation Sans", Arial, Helvetica, sans-serif' font-size="39.86" fill="#000" stroke="#000" stroke-width="0.36" stroke-linejoin="round">Low</text>
</svg>
</body></html>
